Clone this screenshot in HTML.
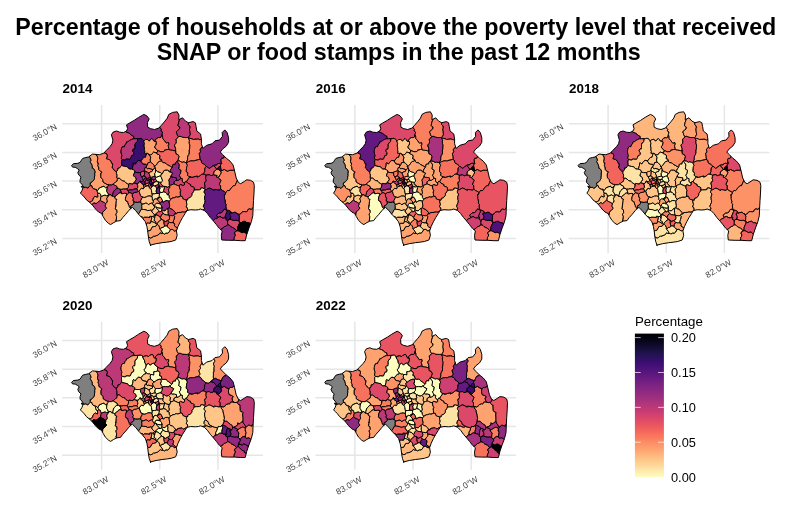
<!DOCTYPE html>
<html lang="en"><head><meta charset="utf-8"><title>Percentage of households at or above the poverty level that received SNAP or food stamps</title>
<style>html,body{margin:0;padding:0;background:#fff}body{width:800px;height:516px;overflow:hidden}svg{display:block}text{font-family:"Liberation Sans",sans-serif}.t{font-weight:bold;font-size:23.25px;fill:#000;text-anchor:middle}.s{font-weight:bold;font-size:13.4px;fill:#000}.a{font-size:8.53px;fill:#454545;text-anchor:end}.l{font-size:12.8px;fill:#000}.lt{font-size:13.3px;fill:#000}.g{stroke:#e6e6e6;stroke-width:1.5;fill:none}.m path,.m use{stroke:#000;stroke-width:1;stroke-linejoin:round}</style></head><body>
<svg width="800" height="516" viewBox="0 0 800 516">
<rect width="800" height="516" fill="#fff"/>
<text class="t" x="395.8" y="35">Percentage of households at or above the poverty level that received</text>
<text class="t" x="398.7" y="60.2">SNAP or food stamps in the past 12 months</text>
<defs class="m"><clipPath id="oc"><path d="M83.6 186.9L81.8 184.2L80.1 182.4L80.1 179.8L81.0 177.1L78.7 174.9L77.8 172.6L79.2 170.0L77.4 168.6L75.2 167.3L72.5 167.1L71.6 165.5L73.4 163.7L77.8 163.3L80.1 162.4L81.4 160.2L82.7 158.4L85.9 157.5L88.5 157.0L92.5 154.1L99.3 154.7L103.8 153.2L106.1 150.6L109.9 146.8L112.1 143.8L112.9 140.1L111.4 134.8L113.2 132.0L116.7 131.0L119.7 132.2L123.5 132.5L126.5 131.0L127.6 128.7L126.5 124.9L129.5 123.0L134.1 120.4L138.6 117.4L143.9 114.4L146.9 115.9L149.2 118.9L147.4 122.7L147.7 127.2L150.7 128.7L154.5 129.5L159.0 128.0L161.0 125.7L164.3 121.9L167.3 118.1L168.8 114.4L172.6 112.4L177.1 111.8L177.2 111.8L179.0 115.1L178.7 119.7L182.5 117.8L185.5 121.2L188.5 122.7L193.1 121.6L195.3 122.7L196.1 126.5L196.8 131.0L200.6 134.0L201.4 139.3L201.4 143.8L202.9 148.4L206.7 145.3L212.0 143.8L215.0 140.8L219.5 140.1L222.5 136.3L222.2 132.5L224.8 129.9L227.1 132.5L228.6 137.8L228.6 142.3L226.3 146.1L222.5 149.1L220.3 152.1L222.5 154.4L226.3 158.2L230.1 161.2L233.1 165.0L234.6 171.0L236.2 178.0L238.4 182.5L240.7 183.7L244.5 181.3L246.7 179.8L250.5 180.3L253.5 182.2L254.3 185.6L254.0 193.1L253.5 200.7L253.1 208.2L252.8 215.8L251.3 221.8L249.0 227.9L246.7 234.7L245.2 240.7L240.7 240.7L234.6 240.3L228.6 240.3L221.8 240.0L221.3 235.4L222.2 230.9L219.5 228.6L216.5 224.8L213.5 221.1L210.4 217.6L207.4 213.5L204.4 210.5L200.6 209.0L198.4 209.7L195.3 210.0L190.8 209.7L187.0 210.5L185.1 213.5L182.5 217.6L180.2 221.8L178.0 226.4L176.4 230.9L177.2 235.4L175.7 240.0L171.2 241.5L166.6 242.2L162.1 242.7L156.1 243.7L150.0 245.2L150.7 245.7L149.2 241.5L148.4 236.9L147.7 230.9L146.9 226.4L145.4 221.8L142.4 218.1L138.6 214.3L135.6 210.5L132.5 207.5L131.0 208.2L128.8 210.5L125.7 214.3L122.7 217.6L120.5 220.6L116.7 221.1L113.7 222.6L110.6 224.6L108.4 223.3L105.3 220.3L103.1 216.5L101.6 213.5L98.5 212.0L95.5 209.0L92.5 205.2L89.5 202.2L86.5 199.9L84.2 196.9L81.9 194.6L80.4 193.1L81.9 190.8L82.7 188.6L81.2 186.3Z"/></clipPath><path id="ol" d="M83.6 186.9L81.8 184.2L80.1 182.4L80.1 179.8L81.0 177.1L78.7 174.9L77.8 172.6L79.2 170.0L77.4 168.6L75.2 167.3L72.5 167.1L71.6 165.5L73.4 163.7L77.8 163.3L80.1 162.4L81.4 160.2L82.7 158.4L85.9 157.5L88.5 157.0L92.5 154.1L99.3 154.7L103.8 153.2L106.1 150.6L109.9 146.8L112.1 143.8L112.9 140.1L111.4 134.8L113.2 132.0L116.7 131.0L119.7 132.2L123.5 132.5L126.5 131.0L127.6 128.7L126.5 124.9L129.5 123.0L134.1 120.4L138.6 117.4L143.9 114.4L146.9 115.9L149.2 118.9L147.4 122.7L147.7 127.2L150.7 128.7L154.5 129.5L159.0 128.0L161.0 125.7L164.3 121.9L167.3 118.1L168.8 114.4L172.6 112.4L177.1 111.8L177.2 111.8L179.0 115.1L178.7 119.7L182.5 117.8L185.5 121.2L188.5 122.7L193.1 121.6L195.3 122.7L196.1 126.5L196.8 131.0L200.6 134.0L201.4 139.3L201.4 143.8L202.9 148.4L206.7 145.3L212.0 143.8L215.0 140.8L219.5 140.1L222.5 136.3L222.2 132.5L224.8 129.9L227.1 132.5L228.6 137.8L228.6 142.3L226.3 146.1L222.5 149.1L220.3 152.1L222.5 154.4L226.3 158.2L230.1 161.2L233.1 165.0L234.6 171.0L236.2 178.0L238.4 182.5L240.7 183.7L244.5 181.3L246.7 179.8L250.5 180.3L253.5 182.2L254.3 185.6L254.0 193.1L253.5 200.7L253.1 208.2L252.8 215.8L251.3 221.8L249.0 227.9L246.7 234.7L245.2 240.7L240.7 240.7L234.6 240.3L228.6 240.3L221.8 240.0L221.3 235.4L222.2 230.9L219.5 228.6L216.5 224.8L213.5 221.1L210.4 217.6L207.4 213.5L204.4 210.5L200.6 209.0L198.4 209.7L195.3 210.0L190.8 209.7L187.0 210.5L185.1 213.5L182.5 217.6L180.2 221.8L178.0 226.4L176.4 230.9L177.2 235.4L175.7 240.0L171.2 241.5L166.6 242.2L162.1 242.7L156.1 243.7L150.0 245.2L150.7 245.7L149.2 241.5L148.4 236.9L147.7 230.9L146.9 226.4L145.4 221.8L142.4 218.1L138.6 214.3L135.6 210.5L132.5 207.5L131.0 208.2L128.8 210.5L125.7 214.3L122.7 217.6L120.5 220.6L116.7 221.1L113.7 222.6L110.6 224.6L108.4 223.3L105.3 220.3L103.1 216.5L101.6 213.5L98.5 212.0L95.5 209.0L92.5 205.2L89.5 202.2L86.5 199.9L84.2 196.9L81.9 194.6L80.4 193.1L81.9 190.8L82.7 188.6L81.2 186.3Z" fill="none"/><path id="a0" d="M135.3 138.7L133.7 137.7L133.6 136.7L133.9 136.2L132.7 135.8L131.2 134.9L130.4 133.8L128.6 132.8L126.3 132.1L125.6 131.3L126.0 130.5L125.4 129.9L124.2 129.5L122.5 129.5L121.5 129.1L121.3 129.1L119.3 129.3L116.7 128.7L116.2 128.0L115.8 128.4L113.6 129.2L111.6 128.1L111.6 128.7L111.7 130.0L111.2 132.5L109.7 132.8L108.1 133.0L107.9 133.9L108.7 136.0L109.0 137.9L108.7 139.1L109.0 139.5L109.6 140.5L109.3 141.7L109.3 142.7L108.9 144.5L108.0 145.1L106.5 145.4L105.2 145.6L104.3 148.0L103.8 149.2L103.3 149.3L103.8 150.7L104.4 152.3L104.3 153.1L104.7 153.2L106.5 153.7L107.2 155.7L106.9 157.0L106.4 158.3L106.6 159.1L107.2 159.2L109.0 159.6L110.9 161.2L111.4 162.8L111.6 163.4L112.6 163.6L112.5 165.7L112.0 167.8L112.2 167.9L113.3 168.9L114.2 170.5L115.2 171.4L116.7 171.4L117.9 170.1L118.1 168.0L118.4 168.2L119.5 168.1L120.8 166.5L121.5 165.5L121.7 164.4L121.5 162.6L121.5 160.8L122.0 159.9L122.6 159.6L121.4 158.7L121.5 157.3L122.0 155.5L121.8 154.7L121.2 153.0L121.1 151.1L121.2 150.6L121.3 149.5L121.8 148.2L122.4 146.9L123.1 146.7L124.2 147.0L125.1 144.8L126.0 143.8L126.7 141.9L127.5 141.9L128.2 141.6L129.2 140.9L130.3 140.2L131.8 139.4L133.2 138.9L134.1 139.0Z"/><path id="a1" d="M124.2 146.9L123.1 146.6L122.4 146.8L121.7 148.2L121.3 149.4L121.1 150.6L121.0 151.1L121.1 153.0L121.7 154.7L121.9 155.5L121.4 157.3L121.4 158.7L122.5 159.6L124.7 160.2L125.6 160.1L125.7 159.3L127.2 159.1L130.1 159.4L130.7 158.4L131.0 157.4L131.9 155.4L133.0 155.4L133.8 154.6L133.7 152.4L133.1 151.8L132.7 150.1L133.6 148.9L134.7 149.2L135.1 147.5L135.0 146.1L135.0 144.4L135.7 142.9L136.6 142.6L137.3 141.5L137.6 140.0L137.8 138.6L136.6 138.6L135.2 138.6L134.1 138.9L133.2 138.8L131.7 139.3L130.2 140.1L129.2 140.8L128.2 141.5L127.4 141.9L126.7 141.9L126.0 143.8L125.1 144.8Z"/><path id="a2" d="M135.2 138.7L137.8 138.6L139.0 138.5L140.0 138.4L141.3 138.5L142.4 139.3L143.4 140.6L144.3 140.6L145.4 139.7L147.2 139.4L148.7 140.6L149.4 141.1L150.2 139.9L151.9 138.7L152.7 139.4L153.4 140.7L154.8 141.5L155.5 140.1L156.8 138.4L158.5 137.5L160.0 137.7L161.1 137.3L161.9 134.5L162.2 133.4L162.5 132.1L161.2 131.3L160.9 130.9L161.4 129.4L160.7 128.4L159.8 127.7L158.8 125.7L158.1 124.1L158.0 125.1L155.8 126.0L154.1 126.7L153.6 125.8L153.0 125.3L151.1 125.4L150.2 123.9L149.9 122.7L151.1 121.4L152.3 121.2L153.1 120.5L152.8 119.7L152.1 118.2L151.2 116.5L149.8 114.8L150.0 114.2L150.4 113.3L149.2 112.7L146.9 111.7L145.7 111.3L145.0 111.6L143.9 112.2L142.6 112.3L141.2 111.4L140.4 111.9L140.0 113.1L139.0 114.1L137.3 115.3L136.1 115.2L135.5 116.1L134.4 117.6L132.8 117.9L131.3 118.4L130.2 118.6L129.3 119.9L128.7 121.3L127.9 121.2L126.5 122.0L125.0 122.9L124.4 123.1L123.7 124.0L123.3 125.1L123.2 125.9L124.2 127.7L124.9 129.0L124.7 129.4L124.1 129.5L125.4 129.9L126.0 130.5L125.6 131.3L126.2 132.1L128.6 132.9L130.3 133.8L131.1 135.0L132.6 135.8L133.9 136.3L133.6 136.8L133.7 137.7Z"/><path id="a3" d="M137.8 138.6L137.6 140.0L137.2 141.5L136.6 142.6L135.7 142.9L135.0 144.4L135.0 146.1L135.0 147.5L134.6 149.2L133.6 148.9L132.6 150.1L133.1 151.8L133.7 152.4L133.8 154.6L133.0 155.3L131.9 155.4L131.0 157.4L130.7 158.3L130.1 159.3L127.2 159.1L125.7 159.3L125.6 160.0L124.7 160.1L122.5 159.6L121.9 159.9L121.5 160.8L121.5 162.5L121.7 164.4L121.5 165.6L122.7 165.9L124.9 166.5L126.8 166.8L127.6 167.0L128.0 167.9L129.1 168.9L130.8 169.2L132.0 168.6L132.7 166.4L133.0 165.4L133.0 163.7L133.6 162.7L134.6 163.8L135.5 164.0L136.2 162.7L137.2 161.5L138.7 160.4L140.7 160.9L141.6 160.5L142.9 158.5L144.0 157.6L144.7 157.4L145.4 157.4L146.2 155.2L147.0 153.3L145.4 153.4L144.5 153.2L145.0 151.7L144.6 150.5L144.4 149.8L144.6 148.3L144.2 146.7L144.1 145.0L144.6 143.7L144.1 142.4L143.5 140.5L142.5 139.3L141.3 138.5L140.0 138.4L139.0 138.6Z"/><path id="a4" d="M154.8 141.5L153.4 140.7L152.7 139.4L151.9 138.6L150.2 139.8L149.4 141.1L148.6 140.6L147.2 139.4L145.4 139.6L144.3 140.6L143.4 140.5L144.1 142.3L144.5 143.6L144.1 144.9L144.2 146.6L144.6 148.3L144.4 149.8L144.6 150.5L144.9 151.7L144.4 153.2L145.3 153.4L147.0 153.3L148.2 153.6L148.7 154.9L150.7 155.0L152.4 153.9L152.8 152.9L153.6 152.2L155.6 152.7L157.3 152.3L157.7 150.8L156.6 149.2L155.0 148.0L154.9 146.1L155.6 145.4L156.0 145.1L156.4 142.8L156.1 141.3Z"/><path id="a5" d="M164.2 150.3L165.5 150.0L167.2 149.5L168.7 149.5L168.7 148.6L168.3 146.3L168.0 145.7L168.8 144.2L168.6 142.6L167.6 142.6L166.4 143.2L165.6 142.2L164.1 140.1L162.8 138.7L162.6 137.7L162.5 136.2L161.9 134.5L161.0 137.3L160.0 137.7L158.5 137.5L156.8 138.3L155.4 140.1L154.7 141.5L156.1 141.3L156.4 142.9L156.0 145.1L155.6 145.3L154.9 146.2L155.0 148.1L156.6 149.2L157.7 150.8L157.3 152.4L157.8 150.9L158.4 150.8L160.8 151.9L163.7 151.7L164.5 150.4Z"/><path id="a6" d="M162.5 132.1L162.2 133.4L161.8 134.5L162.5 136.3L162.6 137.8L162.7 138.7L164.1 140.2L165.5 142.2L166.3 143.2L167.5 142.7L168.5 142.6L168.8 144.2L168.0 145.7L168.2 146.3L168.7 148.6L168.6 149.5L169.9 150.0L170.6 150.1L171.2 150.2L172.6 150.4L174.1 150.7L175.3 150.9L175.7 151.1L175.7 148.4L174.6 145.7L174.7 144.8L175.9 143.6L176.2 143.4L176.4 141.6L176.1 139.1L176.3 139.0L177.1 138.4L177.9 137.9L178.4 136.6L177.3 134.7L177.1 133.4L176.6 133.1L176.4 131.6L177.8 130.5L179.5 129.0L179.9 127.1L178.9 126.6L178.0 125.4L178.3 124.1L178.6 122.6L179.2 120.7L179.7 119.5L179.7 119.1L179.5 118.0L179.5 117.0L180.0 115.7L180.7 114.4L181.2 112.5L180.7 112.3L180.8 111.8L180.8 110.8L179.2 109.8L177.6 109.4L176.2 109.1L175.0 109.1L174.7 109.5L174.2 109.2L172.5 108.2L171.3 108.4L170.4 110.3L170.1 111.4L169.4 111.2L167.7 111.3L166.5 111.9L165.9 112.6L165.0 114.3L164.7 115.1L164.8 116.3L164.3 118.1L163.6 118.5L162.7 120.1L160.8 120.3L158.3 122.2L157.4 123.1L158.1 124.1L158.8 125.8L159.7 127.7L160.7 128.5L161.4 129.5L160.9 130.9L161.2 131.3Z"/><path id="a7" d="M178.3 124.1L178.0 125.3L178.8 126.6L179.9 127.1L179.5 129.0L177.7 130.5L176.4 131.6L176.6 133.1L177.1 133.4L177.2 134.8L178.4 136.6L180.1 136.4L181.3 136.8L181.9 137.1L182.5 137.3L184.1 137.5L186.1 137.6L187.4 137.5L188.0 137.6L189.0 136.7L190.0 134.8L190.2 134.3L189.8 132.2L189.8 131.3L189.6 131.1L189.6 128.8L190.0 127.0L189.5 125.7L188.3 124.4L188.4 123.8L188.3 122.7L188.6 121.7L188.6 120.5L188.8 119.9L187.1 119.0L185.1 117.9L185.3 117.4L185.2 116.2L183.6 115.2L181.8 115.0L181.6 113.5L181.1 112.5L180.7 114.3L180.0 115.7L179.5 117.1L179.4 118.0L179.7 119.1L179.7 119.5L179.3 120.7L178.6 122.5Z"/><path id="a8" d="M188.3 122.7L188.3 123.8L188.2 124.4L189.5 125.7L189.9 127.0L189.5 128.8L189.5 131.1L189.7 131.3L189.7 132.2L190.2 134.4L189.9 134.8L189.0 136.7L188.0 137.6L188.3 137.9L190.1 138.4L192.1 138.9L193.0 139.3L193.4 139.5L194.9 139.3L197.3 139.1L198.8 139.2L199.2 139.8L200.0 139.9L201.7 139.2L203.1 138.8L204.1 139.7L203.7 137.5L203.8 135.5L203.2 136.1L202.6 134.8L203.0 132.4L202.2 131.6L200.9 130.9L200.4 129.8L199.9 128.9L199.7 128.3L199.8 127.1L199.4 126.3L198.2 125.2L198.1 122.7L199.2 121.8L199.6 121.9L199.0 121.6L197.0 121.1L195.2 120.3L194.1 119.2L193.4 118.6L192.5 118.1L191.7 118.5L190.4 119.6L189.0 120.1L188.7 119.9L188.5 120.5L188.6 121.6Z"/><path id="a9" d="M178.4 136.6L177.9 137.8L177.0 138.3L176.2 139.0L176.1 139.1L176.3 141.6L176.2 143.3L175.9 143.6L174.6 144.8L174.6 145.7L175.6 148.4L175.7 151.0L175.3 150.9L175.7 151.1L175.7 153.0L176.0 154.0L177.9 154.7L178.9 156.7L178.5 158.1L178.3 158.9L177.9 160.0L177.3 160.8L179.8 161.1L181.7 162.2L182.2 162.4L183.0 162.0L184.8 162.3L186.3 163.0L186.9 161.4L187.7 159.1L187.7 157.9L187.7 157.3L188.2 155.5L189.0 154.4L189.4 152.0L189.1 150.7L189.3 150.8L189.6 148.6L190.0 148.5L189.8 147.7L190.0 145.7L190.0 145.1L189.4 143.8L189.2 141.3L189.6 141.0L189.2 139.6L188.4 137.9L188.0 137.6L187.4 137.5L186.1 137.6L184.1 137.5L182.5 137.3L181.9 137.1L181.3 136.7L180.1 136.3Z"/><path id="a10" d="M189.9 148.5L189.5 148.6L189.3 150.8L189.1 150.7L189.4 152.0L189.0 154.4L188.2 155.5L187.6 157.3L187.6 157.9L187.7 159.1L186.9 161.4L186.3 163.0L186.5 163.3L187.2 162.6L188.5 161.7L190.4 161.1L192.1 160.9L193.5 161.0L194.3 160.9L194.8 160.5L195.9 160.3L197.8 159.9L199.5 159.5L200.7 160.0L200.3 159.6L199.8 158.1L199.7 156.2L199.3 154.5L199.1 153.2L200.1 152.7L200.5 151.4L199.9 149.9L200.1 149.2L200.6 148.8L201.7 147.3L203.1 146.4L204.3 144.1L204.4 142.9L204.1 142.6L204.1 142.5L204.4 140.7L204.1 139.7L203.1 138.8L201.7 139.1L200.1 139.8L199.2 139.7L198.8 139.2L197.3 139.1L194.9 139.3L193.4 139.5L193.0 139.3L192.1 138.9L190.1 138.4L188.3 137.9L189.1 139.6L189.6 141.0L189.2 141.3L189.3 143.7L189.9 145.1L189.9 145.7L189.7 147.7Z"/><path id="a11" d="M204.2 144.0L203.1 146.4L201.7 147.3L200.6 148.8L200.1 149.2L199.9 149.9L200.5 151.3L200.1 152.7L199.1 153.2L199.3 154.5L199.7 156.3L199.7 158.1L200.3 159.5L200.7 160.0L201.4 160.9L201.4 162.2L202.3 163.5L203.6 164.0L204.3 164.3L205.1 165.3L206.0 166.4L207.4 166.7L208.3 167.8L209.0 168.4L210.0 168.0L211.3 167.0L213.2 165.5L214.6 165.0L216.0 164.9L216.7 164.9L217.5 163.6L219.2 163.3L220.8 163.7L221.3 162.1L221.0 159.8L221.7 158.3L223.0 158.3L224.1 157.7L224.4 156.2L224.3 154.8L224.7 152.5L225.1 152.2L225.3 152.2L224.8 152.7L225.6 152.3L226.3 150.6L226.5 150.1L227.0 149.2L228.6 147.3L229.6 146.0L230.3 145.6L231.1 145.5L232.1 143.2L232.3 141.9L231.6 140.5L231.2 139.3L230.9 140.1L230.9 138.6L231.3 135.8L231.6 134.3L230.3 133.1L229.4 132.0L229.6 130.9L229.4 130.2L228.7 129.5L228.4 129.1L227.9 128.3L226.6 127.5L225.1 126.8L224.1 126.4L223.6 126.2L223.3 126.4L222.7 127.7L221.7 129.9L220.6 130.3L219.8 130.6L219.3 130.4L219.1 130.3L219.0 131.3L219.3 134.4L219.9 135.5L218.9 136.3L218.5 137.5L217.2 137.9L214.8 137.8L212.8 137.7L212.1 137.9L211.5 139.9L210.8 141.3L210.0 140.9L209.0 140.9L208.1 141.4L206.8 142.4L205.2 143.1L204.4 142.8Z"/><path id="a12" d="M85.3 187.4L86.3 187.4L87.2 188.2L88.3 188.0L89.4 186.4L90.7 185.5L90.2 184.7L90.1 182.9L90.6 182.8L92.3 181.7L93.5 180.3L94.0 179.4L94.5 178.4L94.4 177.2L94.7 175.5L94.7 175.2L94.6 173.8L95.0 171.7L94.3 169.5L92.7 168.3L92.3 168.3L92.3 168.0L92.2 166.5L91.9 165.3L91.7 164.6L90.6 162.7L90.1 161.5L90.8 160.8L90.7 159.0L89.9 157.9L89.4 156.8L88.3 154.9L88.0 154.2L87.5 153.9L85.9 153.9L84.0 154.6L83.1 156.1L83.0 156.0L82.3 155.2L81.2 155.1L80.5 156.7L79.8 158.6L77.8 160.9L76.4 160.1L75.9 159.5L75.5 160.3L73.2 160.4L71.2 159.9L70.7 160.6L70.8 162.8L70.2 164.3L69.3 165.6L68.7 165.7L68.6 165.3L68.9 165.5L69.0 167.4L69.2 169.6L70.3 170.2L71.6 170.1L72.4 169.8L73.2 169.5L73.6 169.5L75.0 170.3L75.5 173.4L75.4 174.4L74.4 175.1L75.3 177.0L76.0 177.3L77.9 177.8L77.6 179.1L77.3 180.1L76.5 180.9L76.3 183.1L77.5 184.6L78.6 184.7L78.4 186.0L78.1 187.2L79.5 187.9L81.2 188.7L82.4 188.4L83.7 187.5Z"/><path id="a13" d="M92.3 168.3L92.6 168.3L94.2 169.5L95.0 171.7L94.6 173.8L94.7 175.2L94.7 175.5L94.3 177.2L94.4 178.4L94.0 179.4L93.4 180.3L92.2 181.7L90.5 182.8L90.1 182.9L90.2 184.7L90.7 185.5L91.8 185.9L92.0 187.1L93.2 188.6L95.3 189.4L96.1 189.4L95.9 189.2L96.5 189.7L97.8 190.6L98.6 189.5L99.3 188.0L102.0 186.9L104.0 186.2L104.5 187.1L105.5 187.8L107.5 186.9L108.2 185.8L108.4 184.9L106.9 184.2L104.8 183.1L103.1 182.0L103.0 180.8L102.8 179.5L101.7 178.4L100.7 177.1L100.9 176.4L100.8 175.1L101.0 172.9L102.1 172.2L101.5 171.7L99.6 170.5L98.7 169.2L98.8 168.0L98.4 166.7L97.9 165.5L98.3 164.4L98.3 162.9L98.0 163.2L97.4 161.5L97.8 158.5L97.7 157.1L97.5 156.8L97.0 155.7L95.9 154.8L95.6 154.1L95.5 152.9L94.2 152.1L93.2 152.5L93.0 151.6L92.6 150.9L91.3 150.3L89.2 152.1L88.2 154.3L88.0 154.2L88.3 154.9L89.4 156.7L89.9 157.9L90.6 159.1L90.8 160.8L90.1 161.5L90.6 162.7L91.7 164.6L91.9 165.3L92.2 166.5L92.3 168.0Z"/><path id="a14" d="M97.8 165.5L98.4 166.7L98.8 168.0L98.7 169.3L99.6 170.6L101.4 171.7L102.1 172.2L101.0 172.9L100.8 175.1L100.9 176.4L100.7 177.1L101.7 178.4L102.8 179.6L102.9 180.9L103.1 182.0L104.7 183.1L106.8 184.3L108.4 184.9L108.4 184.4L109.2 184.8L111.7 184.8L113.2 184.0L113.1 184.2L114.0 183.4L115.5 181.9L116.8 181.4L117.3 179.5L117.3 178.2L116.8 177.8L117.1 175.3L116.9 173.8L116.4 173.3L116.6 172.0L116.8 171.3L115.3 171.3L114.2 170.4L113.3 168.9L112.2 167.9L112.0 167.8L112.5 165.6L112.6 163.6L111.6 163.4L111.4 162.8L111.0 161.2L109.1 159.6L107.3 159.1L106.7 159.1L106.4 158.3L107.0 157.0L107.3 155.7L106.6 153.7L104.8 153.2L104.3 153.1L104.4 152.3L103.9 150.7L103.3 149.3L102.6 150.5L101.2 150.7L99.4 151.4L98.1 151.7L98.4 150.8L97.1 150.8L94.2 152.1L95.4 152.9L95.6 154.1L95.8 154.8L97.0 155.7L97.5 156.8L97.6 157.1L97.8 158.5L97.3 161.6L97.9 163.2L98.2 162.9L98.3 164.4Z"/><path id="a15" d="M121.5 165.5L120.8 166.4L119.5 168.1L118.4 168.2L118.1 168.0L117.8 170.0L116.7 171.3L116.5 172.0L116.3 173.3L116.8 173.8L117.1 175.3L116.8 177.8L117.3 178.2L119.2 178.1L120.7 179.2L122.1 180.6L123.6 180.9L124.2 180.7L124.5 181.3L125.8 182.7L127.6 183.8L128.7 184.7L128.5 184.0L129.0 183.4L131.3 183.7L132.9 184.0L133.2 183.1L134.1 182.8L134.7 181.6L136.1 179.7L135.7 177.5L134.3 176.5L133.4 176.0L133.8 173.8L134.2 173.1L134.7 172.2L134.7 170.7L133.3 169.7L132.0 169.4L132.0 168.5L130.8 169.2L129.1 168.9L128.0 167.8L127.6 167.0L126.8 166.7L124.9 166.4L122.7 165.9Z"/><path id="a16" d="M128.7 184.7L127.7 183.8L125.8 182.7L124.5 181.3L124.3 180.6L123.6 180.8L122.1 180.5L120.7 179.2L119.2 178.1L117.2 178.2L117.2 179.5L116.7 181.3L115.5 181.9L114.0 183.3L113.1 184.1L114.3 184.9L116.8 186.2L117.5 188.1L117.8 188.7L117.7 188.5L118.4 188.4L120.0 189.2L121.9 189.3L123.3 188.8L123.9 188.8L125.0 188.9L127.2 188.7L128.1 187.6L128.5 186.3Z"/><path id="a17" d="M108.4 194.8L107.8 193.1L106.6 191.5L106.6 191.0L106.7 190.0L106.9 188.3L107.5 186.9L105.5 187.8L104.5 187.1L103.9 186.2L102.0 186.9L99.3 188.0L98.5 189.4L97.7 190.6L96.5 189.7L96.9 191.3L97.8 193.1L99.8 193.3L100.6 194.5L101.1 196.4L103.0 195.7L105.0 195.0L106.3 195.6L107.0 196.0Z"/><path id="a18" d="M107.4 186.9L106.9 188.3L106.7 190.1L106.6 191.0L106.6 191.6L107.7 193.1L108.3 194.8L109.2 194.9L110.8 194.7L111.3 195.8L112.2 196.2L112.8 194.5L113.4 192.3L113.9 191.1L114.5 190.6L115.3 189.9L116.4 188.5L117.5 188.1L116.8 186.2L114.3 184.9L113.1 184.1L113.2 183.9L111.8 184.8L109.2 184.8L108.4 184.3L108.4 184.9L108.1 185.8Z"/><path id="a19" d="M120.0 189.2L118.4 188.4L117.7 188.5L117.8 188.7L117.5 188.1L116.4 188.5L115.3 189.9L114.5 190.5L113.9 191.1L113.3 192.3L112.7 194.5L112.1 196.2L113.5 196.4L114.8 196.9L116.8 195.1L117.6 194.8L118.6 193.4L120.3 192.7L121.3 192.8L120.8 191.1Z"/><path id="a20" d="M127.7 190.6L127.3 190.0L127.3 188.6L125.0 188.9L123.9 188.8L123.3 188.7L121.9 189.2L120.0 189.1L120.7 191.1L121.3 192.8L121.0 193.6L121.8 193.8L124.6 193.4L126.5 193.5L126.5 194.9L126.8 195.0L127.4 194.1L129.0 192.8L128.6 191.4Z"/><path id="a21" d="M97.9 193.1L97.0 191.3L96.5 189.7L96.0 189.3L96.2 189.4L95.3 189.4L93.2 188.6L92.0 187.1L91.8 185.9L90.7 185.5L89.3 186.3L88.2 187.9L87.2 188.2L86.2 187.3L85.3 187.3L83.7 187.5L82.4 188.4L81.2 188.7L79.5 187.9L78.1 187.2L78.5 187.9L79.1 188.7L78.8 189.0L77.6 189.9L76.5 191.5L76.5 192.4L77.3 194.0L77.9 195.1L78.1 195.2L78.7 195.9L79.5 197.4L80.6 198.8L82.2 199.1L82.9 199.2L82.7 200.3L84.0 201.8L86.2 202.9L86.5 203.6L87.1 204.5L88.8 201.8L89.6 202.1L90.2 202.1L91.3 201.3L92.5 200.7L92.9 199.2L93.4 197.8L95.0 196.3L97.0 197.0L97.8 196.8L97.6 194.5Z"/><path id="a22" d="M128.7 184.7L128.5 186.3L128.0 187.6L127.2 188.7L127.2 190.0L127.7 190.6L129.8 189.9L131.3 189.9L132.2 190.1L133.3 189.4L134.9 189.0L136.4 189.1L137.1 188.4L137.9 187.2L137.7 185.7L137.2 183.9L136.4 183.5L134.1 182.8L133.2 183.1L132.9 184.0L131.2 183.7L129.0 183.4L128.5 184.0Z"/><path id="a23" d="M87.1 204.4L88.9 206.5L90.3 205.8L90.9 205.0L92.1 204.2L93.9 202.8L95.0 203.0L96.0 203.7L97.8 202.3L99.5 200.8L100.2 200.2L100.6 200.5L100.6 200.3L100.7 199.2L100.8 197.9L101.2 196.4L100.6 194.5L99.8 193.2L97.8 193.1L97.5 194.5L97.8 196.8L97.0 197.0L95.0 196.3L93.4 197.8L92.9 199.2L92.5 200.7L91.3 201.2L90.1 202.0L89.6 202.1L88.8 201.8Z"/><path id="a24" d="M105.7 203.5L106.5 202.9L107.2 202.1L107.3 200.6L107.0 199.5L106.9 198.2L107.7 197.1L109.2 194.9L108.4 194.8L107.0 196.0L106.3 195.6L104.9 194.9L103.0 195.7L101.1 196.4L100.7 197.9L100.6 199.2L100.5 200.2L100.6 200.4L101.7 201.3L103.2 201.9L104.4 202.6Z"/><path id="a25" d="M106.5 207.9L105.5 206.7L105.3 205.5L105.7 204.6L105.7 203.5L104.4 202.5L103.2 201.8L101.8 201.3L100.6 200.4L100.2 200.1L99.5 200.7L97.8 202.2L96.0 203.7L94.9 203.0L93.9 202.8L92.2 204.2L90.9 204.9L90.3 205.7L88.9 206.4L90.2 207.8L91.5 208.6L92.5 209.7L93.3 210.4L94.2 210.9L94.0 211.8L94.7 213.3L97.1 214.7L97.9 215.6L97.7 216.1L98.1 215.8L99.3 216.5L100.6 214.8L102.0 214.0L102.6 214.7L102.6 213.1L103.0 211.8L104.5 210.7L106.0 208.9L106.5 208.5Z"/><path id="a26" d="M112.1 196.2L111.3 195.8L110.8 194.7L109.2 194.9L107.7 197.1L106.8 198.3L106.9 199.5L107.3 200.6L107.2 202.1L106.5 202.9L105.7 203.5L105.7 204.6L105.3 205.4L105.4 206.6L106.4 207.9L106.4 208.5L105.6 209.2L103.8 211.3L102.6 212.2L102.6 214.3L102.2 214.2L100.7 214.5L99.3 216.4L100.5 217.6L101.3 218.8L101.9 220.7L101.9 222.3L102.7 222.7L104.2 223.0L105.0 223.4L105.5 224.1L106.7 224.9L108.3 225.7L109.7 226.8L110.8 227.2L111.6 227.3L111.9 227.2L112.6 226.3L114.6 226.0L116.6 226.1L117.2 224.7L117.0 224.1L116.6 222.8L116.7 221.0L116.1 220.0L116.1 220.4L116.4 219.0L116.7 216.4L116.3 215.7L116.0 214.1L116.5 213.2L117.2 212.6L116.9 209.8L115.1 208.8L115.4 208.4L115.8 206.7L115.8 205.7L115.9 206.2L116.1 204.2L116.3 201.8L116.4 200.6L117.0 199.3L116.3 199.2L115.3 198.7L114.9 196.8L113.6 196.4Z"/><path id="a27" d="M114.8 196.9L115.2 198.7L116.2 199.1L116.9 199.3L116.4 200.5L116.2 201.8L116.1 204.2L115.9 206.2L115.8 205.7L115.8 206.7L115.4 208.4L115.1 208.9L116.8 209.9L117.1 212.6L116.5 213.2L115.9 214.1L116.3 215.6L116.6 216.5L116.4 219.1L116.0 220.4L116.0 220.1L116.7 221.0L116.6 222.8L117.0 224.1L118.3 224.3L120.5 224.0L122.1 223.6L122.5 223.6L122.8 223.1L123.5 221.1L124.2 220.8L124.4 218.8L125.5 217.5L127.9 217.6L129.4 217.1L129.2 215.6L128.8 213.8L129.1 213.6L129.1 213.0L129.9 211.4L131.0 211.3L131.0 209.4L129.7 207.2L128.9 206.5L128.9 205.6L128.2 204.0L127.7 202.7L127.8 201.8L127.0 201.5L125.9 201.0L125.3 199.5L125.7 196.6L125.9 196.3L126.5 194.9L126.5 193.5L124.6 193.3L121.8 193.8L121.0 193.5L121.3 192.7L120.3 192.7L118.5 193.4L117.6 194.7L116.8 195.1Z"/><path id="a28" d="M126.5 194.8L125.9 196.2L125.7 196.6L125.2 199.5L125.9 201.0L127.0 201.5L127.8 201.8L127.7 202.7L128.2 204.1L128.9 205.6L128.8 206.6L129.7 207.3L131.0 209.5L130.9 211.3L131.4 209.3L131.0 207.1L130.7 207.0L131.3 205.6L132.8 205.1L133.9 203.6L134.0 201.7L133.9 201.6L132.9 200.8L132.9 199.7L133.5 198.7L133.0 198.1L132.2 196.0L132.2 194.5L132.0 194.2L131.7 193.5L130.7 193.0L129.0 192.7L127.4 194.1L126.8 195.0Z"/><path id="a29" d="M132.0 194.2L132.2 194.5L132.2 196.0L133.0 198.1L133.5 198.7L132.9 199.8L132.9 200.8L133.9 201.6L135.3 202.3L137.8 202.4L139.4 202.1L139.8 202.2L140.8 202.8L140.9 200.5L142.0 198.1L142.9 196.9L142.0 196.6L141.2 196.4L140.6 195.3L139.8 193.4L139.4 191.9L139.2 191.4L138.8 191.3L137.7 191.6L136.3 192.2L134.2 192.5L132.5 193.5Z"/><path id="a30" d="M140.8 202.8L139.8 202.2L139.4 202.1L137.8 202.4L135.3 202.3L133.9 201.6L134.0 201.6L133.9 203.6L132.8 205.1L131.3 205.6L130.6 207.0L131.0 207.0L131.4 209.2L130.9 211.2L129.9 211.4L129.1 212.9L129.1 213.6L130.6 212.6L132.1 212.2L133.3 212.7L133.8 213.7L134.8 214.8L135.5 215.3L135.8 215.9L137.5 217.4L137.9 215.7L138.2 215.5L138.6 214.0L139.2 212.9L140.1 211.6L141.1 209.7L141.6 209.4L141.9 209.2L141.8 208.4L141.9 206.8L141.8 205.2L142.1 204.2L141.9 203.5Z"/><path id="a31" d="M132.0 168.6L132.0 169.4L133.3 169.7L134.7 170.8L134.7 172.2L135.1 172.3L136.9 172.7L139.6 172.7L141.0 172.0L141.9 171.5L143.0 171.5L144.0 170.6L144.5 170.1L144.7 169.6L145.1 167.7L146.1 167.3L146.8 165.7L146.2 164.3L144.0 164.0L142.4 163.5L141.8 162.1L140.7 160.9L138.7 160.4L137.2 161.4L136.2 162.7L135.5 163.9L134.6 163.8L133.6 162.6L133.0 163.7L133.0 165.4L132.7 166.4Z"/><path id="a32" d="M155.6 152.7L156.6 153.5L158.1 154.3L159.3 154.8L160.1 156.1L159.6 158.0L159.5 158.8L161.2 159.2L161.6 160.1L162.1 161.7L163.1 162.6L164.8 162.7L165.9 163.4L166.7 164.1L167.5 164.7L168.8 165.3L170.5 166.4L172.1 167.3L172.5 166.5L172.8 164.5L174.1 164.1L175.4 164.2L175.9 162.2L176.9 161.1L177.4 160.8L177.9 159.9L178.3 158.9L178.6 158.0L179.0 156.7L178.0 154.7L176.1 154.0L175.7 153.0L175.7 151.0L175.3 150.9L174.1 150.7L172.6 150.3L171.3 150.2L170.6 150.1L169.9 150.0L168.6 149.5L167.2 149.5L165.6 150.0L164.3 150.2L164.5 150.4L163.7 151.6L160.8 151.8L158.4 150.7L157.8 150.8L157.3 152.3Z"/><path id="a33" d="M161.6 160.1L161.2 159.2L159.6 158.8L159.6 158.0L160.1 156.1L159.3 154.8L158.1 154.3L156.7 153.5L155.7 152.7L153.6 152.1L152.8 152.8L152.4 153.8L150.7 155.0L148.7 154.8L149.6 155.9L150.6 157.1L150.5 158.1L150.0 160.1L150.6 162.2L151.7 163.0L152.2 163.4L153.3 164.3L154.2 165.8L154.5 166.8L156.2 165.3L157.4 163.4L158.2 162.3L159.4 161.4L160.7 161.3Z"/><path id="a34" d="M146.8 165.7L147.5 164.7L147.5 164.4L148.3 162.6L149.9 162.4L150.7 162.2L150.0 160.1L150.5 158.1L150.7 157.1L149.7 155.9L148.8 154.9L148.2 153.6L146.9 153.3L146.1 155.2L145.4 157.4L144.7 157.3L143.9 157.6L142.8 158.5L141.6 160.5L140.7 160.9L141.8 162.2L142.3 163.6L144.0 164.0L146.2 164.3Z"/><path id="a35" d="M152.9 169.8L154.3 168.7L155.2 168.0L154.6 167.1L154.0 166.4L154.6 166.8L154.2 165.7L153.3 164.3L152.2 163.3L151.7 163.0L150.6 162.1L149.8 162.3L148.2 162.5L147.5 164.4L147.6 164.7L146.8 165.7L146.1 167.3L147.3 168.8L148.1 168.8L148.6 168.4L150.3 168.9Z"/><path id="a36" d="M164.9 170.3L167.4 170.3L168.5 170.5L168.8 171.7L170.6 172.4L170.2 170.4L171.0 168.7L171.9 168.0L172.2 167.3L170.6 166.3L168.8 165.3L167.5 164.7L166.7 164.1L166.0 163.4L164.9 162.7L163.1 162.6L162.1 161.6L161.6 160.0L160.7 161.3L159.4 161.4L158.2 162.2L157.4 163.4L156.2 165.2L154.5 166.8L153.9 166.4L154.5 167.1L155.1 168.0L155.7 170.1L156.6 171.1L157.7 171.9L159.0 172.2L160.5 172.7L161.6 173.7L162.6 173.7L163.3 172.1L163.8 170.9Z"/><path id="a37" d="M134.1 182.8L136.3 183.5L138.5 183.5L139.3 182.0L139.9 181.0L141.9 181.9L143.3 180.6L142.7 178.5L141.6 176.8L140.7 175.4L140.4 174.0L140.6 173.2L139.6 172.7L137.0 172.6L135.2 172.2L134.7 172.1L134.2 173.1L133.8 173.8L133.3 176.1L134.2 176.5L135.6 177.5L136.1 179.8L134.7 181.6Z"/><path id="a38" d="M143.9 176.0L144.5 174.7L144.7 173.2L144.7 170.7L144.5 170.0L144.0 170.6L143.1 171.4L141.9 171.5L141.0 172.0L139.6 172.7L140.5 173.2L140.4 174.0L140.7 175.4L141.6 176.8Z"/><path id="a39" d="M150.4 176.5L149.6 174.7L148.8 172.9L148.1 172.4L147.4 172.0L146.0 171.4L144.7 170.7L144.7 173.2L144.5 174.7L143.9 176.0L145.3 176.5L146.2 177.4L146.6 178.4L147.9 178.4L149.3 177.2Z"/><path id="a40" d="M144.7 170.7L146.0 171.5L147.4 172.1L148.0 172.5L148.8 173.0L150.0 172.2L151.0 171.7L152.0 171.7L153.0 169.7L150.4 168.9L148.6 168.4L148.1 168.8L147.3 168.8L146.1 167.2L145.0 167.7L144.6 169.5L144.5 170.0Z"/><path id="a41" d="M155.7 170.1L155.1 168.0L154.3 168.6L152.9 169.7L151.9 171.7L150.9 171.7L150.0 172.2L148.8 172.9L149.5 174.7L150.3 176.5L150.3 177.9L151.5 177.2L153.7 176.4L155.5 176.4L154.8 175.2L154.8 173.2L155.2 172.8L155.5 172.4Z"/><path id="a42" d="M155.5 178.2L156.7 177.4L159.2 176.3L160.4 176.1L160.6 175.8L161.2 174.1L161.7 173.7L160.5 172.7L159.0 172.2L157.7 171.8L156.6 171.1L155.7 170.0L155.5 172.4L155.2 172.8L154.8 173.2L154.8 175.2L155.4 176.3L156.6 177.3L155.9 178.1Z"/><path id="a43" d="M155.5 178.2L155.9 179.7L157.0 180.9L157.7 181.6L157.9 181.7L159.0 182.0L159.9 182.2L161.2 182.2L162.4 181.0L162.4 180.8L162.0 179.5L161.3 177.4L160.4 176.1L159.1 176.2L156.6 177.3Z"/><path id="a44" d="M160.4 176.1L161.3 177.4L162.0 179.6L162.4 180.9L162.3 181.0L161.2 182.2L160.8 183.6L161.7 184.8L164.0 186.6L165.0 186.5L164.8 186.3L165.9 186.6L167.7 187.1L169.0 186.5L169.6 185.6L169.1 184.6L169.2 183.9L169.2 181.9L168.7 180.6L168.5 180.5L169.4 178.9L170.1 177.9L170.5 177.3L170.7 176.1L170.9 175.9L171.4 174.8L172.2 174.1L172.5 173.2L170.5 172.3L168.8 171.6L168.5 170.5L167.4 170.2L164.9 170.2L163.7 170.9L163.2 172.0L162.5 173.6L161.6 173.6L161.2 174.1L160.6 175.8Z"/><path id="a45" d="M176.9 161.0L175.9 162.2L175.4 164.1L174.1 164.1L172.8 164.4L172.5 166.5L172.1 167.3L171.9 168.0L171.0 168.7L170.2 170.4L170.5 172.4L172.5 173.2L172.1 174.1L171.4 174.8L170.9 175.8L171.5 177.2L173.4 177.4L176.2 177.8L176.4 179.8L176.2 179.7L176.5 180.6L178.5 180.3L181.0 178.4L180.3 176.8L179.6 175.5L179.4 175.1L180.5 173.7L181.1 170.6L181.3 170.3L179.8 169.5L178.8 168.9L179.0 167.9L179.2 166.6L179.4 165.2L179.2 164.0L177.8 162.4Z"/><path id="a46" d="M176.5 179.7L176.2 177.7L173.4 177.4L171.5 177.2L170.9 175.8L170.7 176.1L170.5 177.3L170.0 177.9L169.4 178.9L168.4 180.5L168.7 180.6L169.1 181.9L169.2 183.9L169.0 184.7L169.6 185.6L169.8 185.6L170.7 185.3L172.1 184.8L173.1 184.3L173.9 183.9L174.0 181.7L175.0 181.2Z"/><path id="a47" d="M186.3 163.0L184.8 162.2L183.0 161.9L182.2 162.4L181.7 162.2L179.8 161.1L177.3 160.8L176.9 161.1L177.8 162.4L179.1 164.1L179.3 165.2L179.2 166.6L179.0 167.9L178.8 168.9L179.7 169.5L181.2 170.3L181.0 170.6L180.5 173.6L179.3 175.1L179.5 175.5L180.2 176.7L180.9 178.4L182.4 178.6L182.4 179.5L182.2 181.1L183.2 182.5L184.5 183.0L185.4 181.4L186.6 181.6L187.3 180.1L187.7 179.5L188.6 178.2L190.0 176.7L188.7 176.4L187.6 175.2L187.9 173.6L187.9 172.7L186.4 171.7L186.3 170.3L186.5 168.6L186.6 167.6L186.9 166.4L187.4 165.6L187.2 164.8L186.5 163.3Z"/><path id="a48" d="M186.3 171.7L187.8 172.7L187.8 173.6L187.5 175.2L188.7 176.4L189.9 176.7L191.0 176.8L190.8 177.3L191.9 177.3L195.0 176.5L197.4 175.9L197.4 176.3L197.2 177.1L198.6 176.5L200.5 175.4L201.9 173.9L202.8 174.0L203.6 174.0L204.1 172.3L204.6 171.7L204.7 170.1L204.8 168.0L205.3 167.4L206.1 166.4L205.2 165.2L204.4 164.3L203.7 164.0L202.3 163.5L201.4 162.2L201.4 160.9L200.7 160.0L199.4 159.4L197.8 159.9L196.0 160.3L194.8 160.5L194.3 160.9L193.5 161.0L192.1 160.8L190.3 161.0L188.5 161.6L187.2 162.5L186.5 163.3L187.2 164.8L187.4 165.5L186.9 166.4L186.6 167.5L186.5 168.6L186.3 170.3Z"/><path id="a49" d="M206.2 175.2L204.8 174.5L203.6 173.9L202.8 174.1L201.9 173.8L200.5 175.3L198.6 176.4L197.2 177.1L197.5 176.3L197.4 175.9L195.0 176.5L191.8 177.3L190.7 177.3L191.0 176.8L189.9 176.7L188.6 178.2L187.7 179.5L187.3 180.1L186.6 181.6L187.7 183.1L189.4 184.0L190.6 184.5L190.3 185.2L190.9 186.1L193.2 187.0L194.5 187.9L194.1 188.9L194.3 190.1L196.3 190.0L199.4 189.9L200.5 189.5L200.5 188.3L202.2 187.9L204.1 188.6L204.8 188.7L205.1 186.4L204.9 184.9L204.5 184.0L204.7 182.2L205.6 181.9L206.3 180.5L206.0 179.3L205.7 178.7L205.9 176.7Z"/><path id="a50" d="M176.5 179.7L175.0 181.2L173.9 181.7L173.9 183.9L175.5 184.6L177.7 185.6L179.3 186.1L179.3 185.6L179.4 185.2L180.7 184.5L182.8 185.5L184.2 185.3L184.4 184.9L184.6 182.9L183.2 182.4L182.3 181.0L182.4 179.5L182.4 178.6L180.9 178.3L178.5 180.2L176.5 180.6L176.2 179.6Z"/><path id="a51" d="M186.3 199.9L187.8 200.2L187.9 198.9L188.4 198.1L190.2 197.7L191.9 195.7L192.2 194.6L191.9 193.7L192.5 193.4L193.5 191.7L194.2 190.4L194.3 190.1L194.1 188.9L194.5 187.9L193.3 187.0L190.9 186.1L190.3 185.1L190.6 184.5L189.4 184.0L187.7 183.1L186.6 181.6L185.4 181.4L184.5 182.9L184.4 184.9L184.1 185.3L182.7 185.4L180.6 184.5L179.4 185.2L179.5 188.2L180.2 189.9L180.7 190.7L180.3 191.7L180.0 191.8L180.2 193.7L180.3 196.2L180.4 196.3L182.0 196.4L182.5 197.4L182.7 198.6L184.1 199.4Z"/><path id="a52" d="M180.5 196.3L180.3 196.2L180.3 193.7L180.0 191.7L180.3 191.6L180.7 190.6L180.3 189.9L179.5 188.1L179.4 185.1L179.3 185.6L179.3 186.0L177.7 185.6L175.6 184.6L173.9 183.9L173.0 184.3L172.1 184.7L170.7 185.2L169.7 185.6L169.8 187.7L169.1 188.6L168.5 189.3L168.8 191.4L169.2 192.2L168.8 193.6L168.1 195.0L169.0 195.4L169.1 197.6L170.5 199.4L172.9 197.9L174.2 197.8L174.5 198.0L175.1 197.3L176.4 197.0L177.7 197.2L179.0 196.9Z"/><path id="a53" d="M169.8 185.6L169.6 185.5L169.0 186.4L167.7 187.1L165.8 186.6L164.8 186.3L164.4 187.7L164.0 189.0L163.6 190.2L163.4 191.8L165.6 192.4L167.0 193.8L167.1 194.9L168.2 195.0L168.8 193.6L169.3 192.3L168.9 191.4L168.5 189.3L169.1 188.5L169.8 187.7Z"/><path id="a54" d="M204.2 188.6L202.2 187.9L200.5 188.3L200.6 189.4L199.4 189.8L196.3 189.9L194.3 190.1L194.2 190.4L193.5 191.7L192.5 193.3L191.9 193.7L192.2 194.6L191.8 195.6L190.2 197.6L188.4 198.0L187.9 198.8L187.7 200.1L186.3 199.9L186.3 201.0L186.6 203.0L187.0 204.3L186.5 205.9L186.1 206.9L187.1 207.3L187.7 209.2L187.4 210.2L187.3 210.7L188.2 211.9L188.9 213.3L189.9 212.1L190.1 211.8L190.4 212.5L192.4 213.4L195.2 213.6L196.9 212.6L196.7 211.7L196.3 211.9L197.4 212.9L200.5 213.5L201.8 213.1L202.8 212.7L202.6 211.7L203.5 209.9L204.2 209.5L204.7 208.0L204.0 207.4L203.4 206.5L204.1 204.3L205.0 202.7L205.1 200.8L205.1 200.2L204.8 199.5L204.7 197.3L204.9 195.7L205.5 195.1L205.3 193.8L204.4 192.8L204.2 191.6L205.0 189.6Z"/><path id="a55" d="M159.6 193.3L159.1 195.7L158.9 197.6L160.1 197.0L160.8 197.3L161.9 199.2L162.8 201.3L163.2 202.1L164.0 201.6L165.7 200.6L167.8 200.6L169.0 201.1L169.4 201.0L169.7 200.6L170.5 199.3L169.2 197.5L169.1 195.3L168.2 194.9L167.1 194.8L167.0 193.8L165.6 192.4L163.4 191.8L162.0 192.4L160.8 192.5L160.0 192.8Z"/><path id="a56" d="M164.0 186.6L162.2 187.1L160.4 186.7L159.4 186.3L159.9 188.4L159.4 190.0L159.6 190.9L160.0 192.8L160.7 192.5L162.0 192.4L163.5 191.8L163.6 190.2L164.0 189.0L164.4 187.7L164.8 186.3L165.0 186.5Z"/><path id="a57" d="M151.9 193.0L151.8 192.6L151.5 190.7L151.4 189.7L150.7 188.9L149.1 187.6L148.8 186.0L147.3 185.9L145.0 186.6L144.2 187.4L144.1 187.8L143.3 188.9L141.6 188.3L140.1 189.6L139.1 191.4L139.4 191.9L139.8 193.4L140.6 195.4L141.1 196.4L142.0 196.6L142.9 196.9L143.5 197.4L144.9 197.5L146.5 196.9L147.3 196.4L148.1 196.2L150.0 196.0L152.1 196.5L152.4 195.4L152.1 193.3Z"/><path id="a58" d="M140.8 202.8L141.8 203.5L142.0 204.2L143.9 204.0L145.7 203.2L146.9 203.3L147.8 204.3L148.7 204.6L149.9 203.8L151.3 203.2L152.4 203.7L153.3 201.6L153.6 199.5L153.0 200.5L152.5 199.9L152.4 198.1L152.1 196.5L150.0 196.0L148.1 196.1L147.3 196.4L146.5 196.8L144.9 197.4L143.5 197.4L142.9 196.9L142.0 198.1L140.8 200.4Z"/><path id="a59" d="M156.7 193.3L154.5 193.7L152.4 193.8L151.9 193.0L152.1 193.3L152.3 195.4L152.0 196.5L152.4 198.2L152.4 199.9L153.0 200.5L153.9 199.6L155.2 198.7L156.7 198.9L157.6 197.7L159.0 197.6L159.2 195.7L159.6 193.3L158.8 193.5Z"/><path id="a60" d="M156.8 193.3L156.2 191.3L156.6 189.1L156.7 188.0L155.7 187.2L155.0 186.2L154.2 185.6L153.5 185.5L151.8 186.8L150.6 188.9L151.4 189.7L151.5 190.7L151.8 192.6L151.9 193.0L152.4 193.8L154.6 193.7Z"/><path id="a61" d="M163.2 202.1L162.8 201.2L161.8 198.9L160.7 197.1L159.8 197.2L158.3 198.2L157.4 199.8L158.5 200.8L159.6 202.3L159.2 203.9L159.0 203.9L160.0 203.7L161.1 201.8L162.5 201.6Z"/><path id="a62" d="M153.0 200.5L153.5 199.4L153.3 201.6L152.4 203.7L153.3 205.1L154.4 206.9L155.2 204.5L156.2 203.3L158.0 203.3L159.2 203.8L159.4 201.8L157.9 200.3L156.7 198.8L155.1 198.6L153.9 199.5Z"/><path id="a63" d="M156.7 188.0L156.6 189.1L156.2 191.3L156.7 193.3L158.8 193.6L159.6 193.3L160.0 192.8L159.7 190.9L159.4 190.0L160.0 188.4L159.5 186.3L158.8 186.5L158.3 188.1Z"/><path id="a64" d="M143.6 185.2L143.0 184.2L141.5 183.1L140.1 181.9L140.0 181.0L139.3 181.9L138.4 183.4L136.3 183.5L137.1 183.8L137.7 185.7L137.9 187.2L137.1 188.4L137.4 190.2L138.8 191.4L139.2 191.4L140.1 189.6L141.7 188.3L143.4 188.9L144.1 187.8Z"/><path id="a65" d="M137.1 188.4L136.4 189.0L134.9 189.0L133.3 189.4L132.1 190.0L131.2 189.9L129.8 189.9L127.7 190.6L128.5 191.4L128.9 192.8L130.6 193.0L131.7 193.5L132.0 194.2L132.6 193.6L134.3 192.5L136.3 192.2L137.8 191.7L138.8 191.4L137.5 190.2Z"/><path id="a66" d="M139.9 181.0L140.1 181.9L141.4 183.1L143.0 184.2L143.6 185.2L143.9 184.3L144.3 184.9L145.2 184.7L144.8 181.8L143.7 181.1L143.6 181.0L143.3 180.7L141.8 181.9Z"/><path id="a67" d="M150.3 177.9L150.4 176.4L149.2 177.1L147.8 178.3L146.6 178.3L146.4 178.2L146.2 178.7L148.2 179.3L150.1 179.5L150.4 179.0L150.3 178.4L150.3 178.3Z"/><path id="a68" d="M146.0 179.7L145.2 181.1L144.7 181.8L145.2 184.4L146.8 183.7L148.4 183.0L149.4 182.9L149.7 181.8L148.8 180.9Z"/><path id="a69" d="M153.7 186.0L152.9 183.8L154.0 182.7L153.0 183.2L152.1 184.2L150.9 184.8L150.6 185.3L151.8 186.9L153.5 185.6L154.2 185.6Z"/><path id="a70" d="M158.6 184.1L156.5 185.1L154.4 185.7L153.7 186.0L154.2 185.6L155.0 186.2L155.7 187.1L156.7 188.0L158.3 188.1L158.9 186.5L158.6 186.7L159.1 185.9Z"/><path id="a71" d="M164.1 186.6L161.7 184.8L160.9 183.6L161.2 182.1L159.9 182.2L159.0 182.0L157.9 181.7L158.5 184.2L159.1 186.0L158.6 186.8L158.8 186.6L159.5 186.3L160.5 186.7L162.3 187.2Z"/><path id="a72" d="M145.2 184.6L144.4 184.9L143.9 184.3L143.6 185.2L144.1 187.8L144.2 187.5L145.0 186.7L147.3 186.0L148.8 186.0L148.6 185.4L146.6 185.7Z"/><path id="a73" d="M151.9 186.8L150.7 185.3L150.9 184.9L150.0 183.5L149.4 182.9L148.8 184.1L148.5 185.5L148.8 186.0L149.1 187.7L150.7 188.9Z"/><path id="a74" d="M153.2 179.5L154.2 181.5L154.3 182.6L155.2 182.0L156.4 181.6L157.7 181.6L157.0 180.9L155.9 179.7L155.5 178.2L155.9 178.0L156.3 179.6L155.3 179.4Z"/><path id="a75" d="M151.0 179.6L150.5 180.5L150.0 181.2L149.7 181.8L149.4 182.9L149.9 183.5L151.2 183.3L152.4 183.0L151.5 181.8Z"/><path id="a76" d="M225.2 152.2L224.7 152.5L224.3 154.8L224.3 156.2L224.1 157.7L223.0 158.3L221.6 158.3L221.0 159.8L221.2 162.1L221.8 163.7L221.6 163.9L221.1 163.8L220.7 164.6L220.3 166.0L221.0 168.7L221.5 170.7L223.5 170.0L224.0 169.1L224.4 169.5L226.1 170.5L227.8 171.2L228.6 170.8L229.9 170.2L232.1 170.2L233.7 170.2L234.4 169.8L235.2 169.3L236.4 169.0L236.7 167.4L237.3 166.4L237.0 165.1L236.3 164.2L234.9 162.9L233.6 161.2L234.1 160.7L234.0 161.1L232.0 160.2L230.4 158.3L230.0 156.7L229.6 156.2L228.9 156.1L227.9 154.9L226.2 153.0L225.3 152.2Z"/><path id="a77" d="M221.2 162.0L220.7 163.6L219.1 163.3L217.4 163.5L216.6 164.9L215.9 164.9L214.6 165.0L213.1 165.5L214.9 166.7L215.9 168.5L217.0 169.5L217.8 169.3L218.5 167.3L220.4 166.0L220.7 164.7L221.1 163.8L221.6 164.0L221.8 163.7Z"/><path id="a78" d="M221.5 170.7L221.1 168.7L220.4 166.0L218.4 167.2L217.8 169.3L216.9 169.5L216.8 169.3L218.0 169.2L219.0 169.9L220.5 171.1Z"/><path id="a79" d="M213.7 174.8L216.0 175.2L217.3 175.6L216.8 176.3L216.5 177.0L217.9 177.4L219.0 177.0L220.3 174.7L221.2 173.1L221.3 172.1L220.5 171.1L218.9 169.9L218.0 169.2L216.9 169.3L215.3 170.6L214.2 171.4L214.0 172.0L213.8 173.3Z"/><path id="a80" d="M217.0 169.5L215.9 168.4L214.9 166.7L213.1 165.5L211.3 166.9L210.0 167.9L209.0 168.4L208.3 167.7L207.4 166.7L206.0 166.4L205.3 167.5L204.8 168.0L204.6 170.1L204.5 171.7L204.1 172.3L203.5 174.0L204.7 174.5L206.2 175.2L207.6 174.9L209.3 174.7L210.4 175.3L210.8 175.9L211.8 175.5L213.8 174.8L213.8 173.3L213.9 172.0L214.2 171.4L215.3 170.6L216.9 169.3Z"/><path id="a81" d="M221.5 170.7L220.5 171.1L221.2 172.1L221.2 173.1L220.2 174.7L218.9 177.0L217.9 177.4L218.9 178.6L220.4 179.4L221.1 180.3L220.0 182.8L219.3 184.5L220.1 185.0L220.6 185.8L220.6 187.2L220.6 188.9L221.2 189.6L222.4 190.6L224.5 191.7L225.9 192.8L226.6 191.6L227.0 190.8L227.7 190.5L229.1 190.8L230.2 189.8L230.9 188.3L231.9 187.6L233.5 185.7L234.7 185.6L235.0 185.8L235.4 185.1L236.4 182.7L237.6 180.0L238.3 180.2L239.3 180.3L241.1 180.6L239.5 179.9L237.5 177.3L237.7 174.6L238.4 174.6L239.2 173.5L239.5 172.0L237.9 171.0L236.3 168.9L235.2 169.2L234.4 169.8L233.7 170.2L232.0 170.1L229.8 170.1L228.6 170.7L227.8 171.2L226.1 170.5L224.4 169.5L224.0 169.0L223.5 169.9Z"/><path id="a82" d="M205.0 189.7L205.9 189.7L206.6 189.5L207.8 188.7L209.2 188.1L211.1 188.7L213.2 190.0L214.1 190.5L213.9 189.8L214.7 189.4L217.3 189.9L219.7 190.3L220.1 189.7L220.6 188.8L220.6 187.2L220.6 185.8L220.1 185.0L219.3 184.5L220.0 182.8L221.1 180.3L220.5 179.4L219.0 178.5L217.9 177.4L216.5 177.1L216.8 176.3L217.3 175.6L216.0 175.2L213.7 174.8L211.8 175.4L210.9 175.9L210.4 175.3L209.3 174.7L207.6 174.9L206.2 175.2L205.9 176.6L205.7 178.7L206.0 179.3L206.2 180.5L205.6 181.9L204.7 182.2L204.5 184.0L204.9 184.9L205.1 186.4L204.8 188.7L204.1 188.6Z"/><path id="a83" d="M227.7 190.4L227.0 190.8L226.6 191.6L225.8 192.7L224.8 195.0L224.1 194.6L224.5 196.6L224.4 198.5L224.8 199.5L225.3 201.5L225.1 202.9L225.1 203.3L226.0 204.1L226.1 204.5L225.7 205.9L226.2 208.9L226.8 209.8L227.4 210.2L228.7 210.3L230.9 211.5L231.7 213.1L231.9 213.5L232.6 213.0L234.5 212.3L235.7 212.4L235.9 213.0L237.3 213.7L239.1 214.5L240.9 213.8L241.9 212.3L242.6 211.8L244.2 211.7L246.2 211.8L247.3 211.4L247.9 209.6L249.4 208.9L251.4 209.5L252.3 208.8L252.4 208.0L253.1 208.1L254.5 207.9L255.8 207.7L255.3 206.3L255.1 204.6L255.7 203.4L257.1 202.5L257.6 201.8L256.6 200.1L255.8 197.6L256.1 196.4L256.6 195.9L256.6 195.0L256.8 193.3L257.0 190.5L256.7 189.6L256.6 189.7L256.7 188.7L256.3 187.0L256.2 184.8L257.1 183.6L258.0 182.4L257.7 181.2L256.7 180.7L255.3 180.5L253.3 179.4L252.5 177.7L252.4 176.5L251.3 176.7L249.3 176.9L247.9 176.3L247.2 175.9L246.5 176.2L245.1 177.5L243.6 178.3L242.9 178.2L242.3 179.9L241.0 180.9L241.1 180.6L239.3 180.3L238.3 180.1L237.6 180.0L236.4 182.6L235.3 185.0L234.9 185.8L234.6 185.6L233.4 185.7L231.8 187.6L230.9 188.3L230.2 189.7L229.0 190.7Z"/><path id="a84" d="M204.7 199.6L205.1 200.2L205.0 200.8L204.9 202.7L204.1 204.3L203.4 206.5L204.0 207.4L204.6 208.0L204.1 209.5L203.4 209.8L202.5 211.7L202.7 212.7L203.1 212.7L203.7 213.4L204.2 215.1L205.1 216.5L205.4 217.0L205.5 217.3L206.9 218.5L208.6 220.0L209.1 220.5L209.1 220.7L209.7 221.6L210.5 223.3L211.6 222.5L213.3 220.8L214.4 219.4L214.9 219.2L215.6 218.5L216.7 218.7L217.6 217.3L216.5 215.1L217.3 214.5L219.0 213.0L221.3 212.7L222.5 211.8L222.9 210.8L223.7 209.6L225.0 208.9L225.8 210.1L226.3 208.9L225.8 205.9L226.2 204.5L226.1 204.1L225.2 203.3L225.1 202.9L225.3 201.5L224.8 199.5L224.5 198.5L224.5 196.6L224.2 194.6L224.9 195.0L225.9 192.7L224.5 191.6L222.4 190.6L221.2 189.6L220.6 188.8L220.1 189.6L219.6 190.2L217.3 189.8L214.7 189.4L213.9 189.8L214.2 190.5L213.2 190.0L211.1 188.7L209.2 188.1L207.8 188.7L206.7 189.5L205.9 189.7L205.0 189.6L204.2 191.6L204.3 192.8L205.3 193.9L205.4 195.2L204.8 195.7L204.6 197.3Z"/><path id="a85" d="M253.9 222.2L254.2 221.8L255.1 221.5L255.9 220.2L255.7 218.2L255.1 216.5L255.1 216.3L255.5 216.0L255.8 214.7L256.4 212.7L257.5 211.1L257.7 209.8L256.8 208.6L255.8 207.7L254.5 207.9L253.2 208.1L252.4 208.0L252.3 208.8L251.5 209.4L249.5 208.9L247.9 209.6L247.3 211.4L246.2 211.8L244.1 211.6L242.6 211.8L241.9 212.2L240.8 213.8L239.0 214.5L237.3 213.7L238.8 215.2L239.3 216.2L239.1 217.2L239.1 220.2L238.8 221.0L239.5 221.7L240.6 222.6L241.5 222.5L243.2 221.6L244.9 221.3L246.1 222.1L246.9 222.7L247.9 222.7L249.4 223.1L251.0 223.9L252.7 223.6Z"/><path id="a86" d="M239.5 221.6L239.7 223.0L239.2 223.9L238.1 226.3L237.5 227.9L237.7 228.3L237.3 230.8L238.0 230.7L239.5 231.2L241.1 232.2L242.2 232.6L243.5 232.2L244.9 232.3L246.0 233.6L247.4 235.0L249.3 235.1L250.1 234.6L250.1 234.3L250.4 232.3L250.7 231.4L250.7 228.7L250.7 228.6L251.6 228.5L252.9 227.1L253.8 225.4L253.9 222.1L252.7 223.5L251.1 223.8L249.4 223.1L247.9 222.7L246.8 222.7L246.1 222.1L245.0 221.2L243.2 221.5L241.5 222.4L240.6 222.5Z"/><path id="a87" d="M237.3 230.7L236.8 231.0L235.3 231.6L234.4 233.4L234.9 233.5L235.4 235.1L235.0 236.5L234.3 237.2L234.2 238.5L234.1 240.1L233.3 242.2L232.2 243.8L233.4 244.1L235.8 244.4L237.6 244.6L237.9 244.0L238.3 243.1L240.0 243.1L241.5 244.1L242.2 244.9L243.0 244.3L244.9 242.9L246.3 242.1L247.0 241.9L247.3 241.9L247.8 241.9L248.6 241.9L249.0 240.4L249.4 238.4L249.9 235.8L250.1 234.6L249.3 235.0L247.4 234.9L246.0 233.6L244.9 232.2L243.5 232.1L242.2 232.6L241.1 232.2L239.5 231.1L238.0 230.7Z"/><path id="a88" d="M236.8 231.0L236.0 229.9L234.2 228.4L232.6 227.5L231.7 227.2L230.8 226.6L229.9 225.6L228.8 225.0L227.7 224.9L226.9 225.4L225.6 226.3L224.2 226.6L223.0 228.0L222.0 228.7L221.1 229.0L220.5 230.0L220.0 230.1L219.1 231.1L219.7 231.5L219.2 232.8L218.9 234.5L218.9 236.0L218.6 236.6L218.1 237.7L218.1 238.9L218.1 240.4L218.5 241.8L220.6 242.5L222.2 242.7L222.8 243.0L222.6 243.4L223.1 243.4L225.8 243.5L227.5 243.9L228.1 243.7L229.7 243.2L231.7 243.1L232.5 243.4L232.2 243.8L233.3 242.2L234.1 240.1L234.2 238.5L234.4 237.2L235.1 236.5L235.4 235.1L234.9 233.5L234.4 233.4L235.3 231.6Z"/><path id="a89" d="M217.5 217.3L216.7 218.7L215.5 218.5L214.9 219.2L214.4 219.3L213.3 220.8L211.6 222.4L210.5 223.2L212.1 224.7L213.6 225.3L213.4 226.1L213.6 227.1L215.2 227.4L215.9 228.1L216.8 229.7L219.1 231.1L220.1 230.1L220.5 230.1L221.2 229.0L222.0 228.7L223.0 228.1L224.2 226.7L225.7 226.3L226.9 225.4L227.7 224.9L227.6 224.0L227.6 222.3L227.7 220.4L226.0 219.5L225.9 218.6L226.2 217.6L225.1 217.7L222.5 217.8L220.7 217.1L220.4 216.3L219.8 216.5Z"/><path id="a90" d="M226.2 217.6L225.5 216.3L225.1 216.5L225.7 215.1L226.6 212.8L227.1 211.7L227.2 211.1L227.1 211.1L226.8 209.7L226.2 208.8L225.7 210.1L225.0 208.9L223.7 209.5L222.9 210.8L222.5 211.8L221.2 212.7L219.0 213.0L217.2 214.5L216.4 215.1L217.6 217.4L219.8 216.5L220.4 216.3L220.6 217.1L222.5 217.8L225.1 217.8Z"/><path id="a91" d="M227.7 220.5L228.5 219.8L229.4 219.3L230.4 219.2L230.9 216.7L230.3 215.4L229.7 214.0L230.2 213.0L231.7 213.1L231.0 211.5L228.7 210.3L227.4 210.1L226.8 209.7L227.1 211.1L227.2 211.1L227.1 211.7L226.6 212.7L225.6 215.1L225.0 216.5L225.5 216.3L226.2 217.6L225.9 218.6L226.0 219.6Z"/><path id="a92" d="M238.8 221.1L239.1 220.2L239.1 217.2L239.4 216.2L238.9 215.2L237.3 213.7L236.0 213.0L235.8 212.4L234.5 212.3L232.6 212.9L231.9 213.5L231.7 213.1L230.2 212.9L229.6 214.0L230.3 215.4L230.8 216.7L230.3 219.2L229.3 219.3L228.4 219.8L229.8 219.3L230.4 219.2L231.6 219.7L233.4 220.3L234.7 220.5L235.6 220.3L237.2 220.3Z"/><path id="a93" d="M227.7 224.9L228.8 225.0L229.9 225.6L230.8 226.6L231.7 227.2L232.6 227.5L234.2 228.4L236.0 229.9L236.8 231.0L237.3 230.8L237.7 228.3L237.5 227.8L238.1 226.3L239.2 223.9L239.7 223.0L239.5 221.7L238.8 221.0L237.2 220.3L235.6 220.3L234.7 220.5L233.4 220.2L231.6 219.7L230.4 219.2L229.8 219.3L228.4 219.8L227.6 220.4L227.5 222.3L227.5 224.1Z"/><path id="a94" d="M164.5 234.0L163.9 233.6L163.7 233.4L162.9 233.3L161.1 233.4L160.2 232.6L159.4 233.8L157.6 235.1L155.5 235.9L154.3 236.2L153.8 235.8L152.9 236.8L152.0 237.5L150.6 237.9L148.8 237.1L147.8 235.8L147.8 235.1L147.1 235.1L145.1 234.8L145.6 237.4L145.7 238.6L146.2 238.5L147.0 239.8L146.8 241.0L146.0 242.1L146.4 244.2L147.5 245.4L148.4 246.5L149.5 247.4L150.2 247.8L150.4 248.1L149.9 248.6L149.8 248.9L151.3 248.6L153.5 247.3L154.9 246.4L155.6 246.3L156.8 245.9L158.6 245.6L160.1 246.0L160.7 246.5L161.2 246.1L162.0 245.3L163.4 245.6L164.8 246.4L166.0 246.2L167.0 245.0L168.2 244.1L169.8 244.1L171.3 244.2L171.9 243.9L172.5 244.0L173.9 244.3L175.8 243.3L176.4 242.2L176.4 241.2L176.9 240.6L177.9 240.2L178.9 237.7L179.7 237.2L180.3 235.5L180.5 234.8L179.9 234.9L179.1 233.0L179.3 231.0L179.5 230.9L178.4 229.9L177.3 229.6L175.9 230.5L174.7 231.1L173.7 230.3L172.3 229.4L170.4 229.5L169.6 230.9L169.1 232.1L167.7 233.1L165.9 233.0Z"/><path id="a95" d="M156.8 224.6L155.8 226.1L154.6 226.4L153.5 226.6L152.7 226.4L151.6 228.1L150.2 230.5L148.8 230.6L147.9 230.9L147.1 231.7L146.2 233.3L145.1 234.1L145.1 234.9L147.1 235.2L147.7 235.2L147.7 235.8L148.8 237.2L150.6 238.0L152.0 237.5L152.9 236.8L153.8 235.8L154.3 236.3L155.5 235.9L157.6 235.2L159.4 233.9L160.2 232.6L161.1 233.4L162.9 233.4L161.8 231.2L160.3 229.3L159.8 228.8L159.8 227.4L158.8 225.5L157.9 224.5Z"/><path id="a96" d="M156.8 224.6L156.5 224.1L155.8 223.4L154.6 222.6L153.1 221.8L151.9 221.5L151.0 221.7L150.2 223.4L148.6 223.1L147.1 223.1L146.6 223.7L146.2 225.4L144.8 227.0L143.1 226.5L144.0 227.7L144.3 229.7L144.3 230.6L144.9 231.4L145.3 233.2L145.1 234.1L146.2 233.4L147.1 231.7L147.9 230.9L148.8 230.6L150.2 230.6L151.6 228.1L152.6 226.5L153.5 226.6L154.6 226.5L155.8 226.2Z"/><path id="a97" d="M151.0 221.7L151.3 220.1L151.7 219.1L151.9 216.8L152.2 216.4L149.8 216.2L149.5 217.1L149.7 217.6L147.7 217.2L144.6 217.1L143.4 217.8L143.5 217.9L142.4 216.9L140.5 216.5L139.6 217.5L138.6 218.4L139.0 219.6L138.5 220.1L138.7 220.4L140.3 221.4L141.7 222.7L143.1 223.6L143.1 224.3L142.6 225.6L143.1 226.5L144.9 227.0L146.3 225.5L146.6 223.7L147.1 223.2L148.7 223.2L150.3 223.4Z"/><path id="a98" d="M153.6 216.4L154.6 214.5L154.4 214.5L152.8 213.0L151.6 211.0L151.9 210.6L151.4 209.9L151.0 209.8L149.4 210.3L147.7 210.5L147.0 210.1L146.0 209.7L143.6 209.4L141.8 209.1L141.6 209.4L141.0 209.6L140.1 211.6L139.2 212.9L138.6 213.9L138.1 215.5L137.8 215.6L137.5 217.3L138.7 218.5L139.6 217.6L140.5 216.5L142.4 216.9L143.5 217.9L143.4 217.9L144.6 217.1L147.7 217.2L149.7 217.6L149.5 217.1L149.8 216.2L152.2 216.5Z"/><path id="a99" d="M152.5 203.7L151.3 203.1L149.9 203.7L148.7 204.6L147.8 204.2L146.9 203.2L145.7 203.1L143.9 203.9L142.0 204.2L141.7 205.2L141.9 206.8L141.8 208.4L141.8 209.1L143.6 209.5L146.0 209.7L147.0 210.2L147.6 210.6L149.3 210.4L151.0 209.9L151.4 209.9L151.8 210.6L153.2 209.7L154.2 208.0L154.6 207.6L154.5 206.8L153.3 205.1Z"/><path id="a100" d="M180.4 196.3L179.0 196.9L177.7 197.2L176.4 196.9L175.1 197.2L174.5 197.9L174.1 197.8L172.9 197.9L170.4 199.4L169.7 200.6L169.4 201.0L169.2 201.8L169.2 203.0L169.7 205.4L169.5 206.9L169.3 207.7L171.1 209.0L171.4 209.0L171.4 208.8L173.4 210.2L175.4 212.5L176.0 213.9L176.8 213.6L177.1 212.7L178.8 212.5L180.9 212.4L182.3 212.1L183.3 212.1L184.6 212.2L185.9 211.5L187.3 210.7L187.4 210.2L187.7 209.2L187.1 207.3L186.2 206.9L186.5 205.8L187.1 204.3L186.7 203.1L186.3 201.0L186.3 199.9L184.2 199.4L182.7 198.5L182.6 197.3L182.0 196.4Z"/><path id="a101" d="M174.1 223.2L174.6 224.5L174.4 225.9L175.5 226.9L177.1 227.7L177.7 228.8L178.4 229.9L179.5 230.9L179.9 230.2L179.9 228.7L180.1 228.4L180.8 227.1L181.9 224.9L183.0 224.4L183.7 223.1L184.0 222.1L184.0 222.0L184.4 221.2L185.1 219.9L185.9 217.1L186.5 216.5L186.9 215.7L187.7 215.6L189.0 213.2L188.2 211.9L187.3 210.7L185.9 211.4L184.7 212.2L183.3 212.1L182.3 212.0L180.9 212.4L178.8 212.5L177.1 212.7L176.8 213.6L176.0 213.9L174.6 213.9L173.8 215.5L174.6 216.4L174.5 216.9L174.1 219.3L173.7 219.8L173.2 221.2L173.3 223.1Z"/><path id="a102" d="M169.4 222.4L170.8 222.8L171.8 222.7L172.8 222.7L174.1 223.3L173.4 223.1L173.3 221.2L173.8 219.8L174.1 219.3L174.5 216.9L174.6 216.4L173.8 215.5L172.2 215.8L170.5 215.6L169.5 215.4L169.0 215.5L169.0 215.5L169.6 217.6L169.1 219.7L167.3 220.4L167.8 221.3Z"/><path id="a103" d="M161.6 209.7L162.8 210.7L165.1 211.0L166.5 209.4L167.5 208.3L168.3 208.1L169.4 207.7L169.5 206.9L169.7 205.4L169.3 203.0L169.2 201.8L169.4 201.0L169.0 201.1L167.8 200.6L165.7 200.6L164.0 201.6L163.2 202.1L162.4 201.6L161.1 201.7L159.9 203.7L160.6 204.7L161.5 205.8L161.9 207.5L162.1 207.2L162.0 207.5Z"/><path id="a104" d="M169.0 215.5L169.5 215.4L170.5 215.6L172.2 215.8L173.9 215.6L174.6 213.9L176.1 213.9L175.4 212.5L173.5 210.1L171.5 208.8L171.4 209.1L171.1 209.0L169.4 207.7L168.2 208.0L167.5 208.2L168.0 210.7L167.8 212.5L168.0 213.3L168.5 215.0Z"/><path id="a105" d="M164.9 226.1L163.1 227.4L161.8 227.5L161.0 228.2L160.3 229.4L161.7 231.2L162.8 233.4L163.7 233.5L163.9 233.7L164.5 234.0L166.0 233.0L167.8 233.1L169.1 232.1L169.6 231.0L170.5 229.5L169.1 228.6L168.4 227.7L167.9 227.1L167.3 227.0L167.3 226.3L167.0 225.9Z"/><path id="a106" d="M151.8 210.6L151.6 211.0L152.8 213.1L154.4 214.5L155.6 214.1L156.8 212.9L157.5 212.1L158.3 211.6L160.0 211.7L158.9 210.6L157.0 208.6L156.0 206.9L155.6 206.5L154.6 207.5L154.1 208.0L153.1 209.7Z"/><path id="a107" d="M160.0 211.7L158.3 211.5L157.5 212.1L156.9 212.8L155.6 214.1L154.4 214.4L154.6 214.5L154.7 215.1L154.8 215.1L156.1 214.9L158.5 215.7L159.6 217.2L160.5 217.6L161.5 215.2L163.1 213.4L162.6 212.3L161.5 210.9L161.0 211.3Z"/><path id="a108" d="M167.4 220.4L169.2 219.7L169.6 217.6L169.0 215.5L169.0 215.5L168.5 214.9L166.6 214.7L164.9 214.6L164.3 214.3L164.1 213.8L163.1 213.4L161.5 215.2L160.4 217.6L161.3 219.1L161.4 218.7L161.4 219.4L163.2 220.0L164.6 220.9L164.8 221.9L165.5 221.5Z"/><path id="a109" d="M160.5 217.5L159.6 217.1L158.5 215.6L156.1 214.9L154.8 216.1L154.6 218.1L154.4 218.6L154.1 219.7L154.0 220.7L155.0 221.1L155.7 221.9L155.7 223.4L156.4 224.1L157.2 223.9L157.6 223.1L158.0 222.4L159.2 221.3L161.5 219.4L161.5 218.7L161.3 219.1Z"/><path id="a110" d="M163.2 219.9L161.4 219.4L159.2 221.3L158.0 222.3L157.6 223.0L157.1 223.9L156.4 224.1L156.7 224.6L157.8 224.6L158.8 225.6L159.7 227.5L159.8 228.8L160.3 229.4L161.1 228.2L161.8 227.5L163.1 227.4L164.9 226.1L164.2 224.8L163.7 222.9L163.8 221.4Z"/><path id="a111" d="M174.1 223.2L172.8 222.7L171.8 222.7L170.8 222.7L169.4 222.3L168.5 223.0L167.7 224.5L167.3 226.3L167.2 226.9L167.8 227.1L168.3 227.8L169.0 228.6L170.4 229.5L172.3 229.4L173.7 230.3L174.7 231.1L176.0 230.5L177.4 229.6L178.4 229.9L177.8 228.8L177.1 227.7L175.6 226.9L174.4 225.9L174.6 224.4Z"/><path id="a112" d="M164.9 226.2L167.0 226.0L167.3 226.3L167.7 224.6L168.5 223.0L169.5 222.4L167.9 221.3L167.4 220.4L165.5 221.4L164.8 221.8L164.6 220.8L163.2 219.9L163.8 221.4L163.7 222.9L164.1 224.8Z"/><path id="a113" d="M161.5 210.9L162.5 212.2L163.1 213.4L164.1 213.8L164.3 214.3L164.9 214.6L166.6 214.7L168.5 215.0L168.1 213.3L167.9 212.6L168.0 210.7L167.5 208.2L166.5 209.3L165.0 210.9L162.8 210.6L161.6 209.6Z"/><path id="a114" d="M151.0 179.7L151.4 178.8L150.8 178.2L150.3 178.3L150.2 178.4L150.4 179.0L150.0 179.5L150.0 181.2L150.5 180.5Z"/><path id="a115" d="M151.0 179.7L151.5 181.8L152.3 183.0L153.0 183.2L154.0 182.8L154.3 182.6L154.2 181.4L153.3 179.5L151.3 178.7Z"/><path id="a116" d="M150.3 178.3L150.8 178.2L151.3 178.8L153.3 179.6L155.3 179.4L156.2 179.6L155.9 178.1L156.6 177.3L155.5 176.3L153.6 176.3L151.4 177.1L150.3 177.8Z"/><path id="a117" d="M149.7 181.9L150.0 181.2L150.1 179.5L148.2 179.2L146.2 178.6L145.9 179.8L148.7 181.0Z"/><path id="a118" d="M154.3 182.6L154.0 182.8L152.9 183.9L153.7 186.0L154.4 185.8L156.5 185.2L158.6 184.2L158.0 181.7L157.7 181.6L156.4 181.6L155.2 182.0Z"/><path id="a119" d="M146.2 178.7L146.4 178.3L145.3 177.6L144.4 179.1L143.3 180.6L143.3 180.7L143.6 181.1L143.7 181.2L144.8 181.8L145.2 181.2L146.0 179.8Z"/><path id="a120" d="M143.9 176.0L141.6 176.8L142.6 178.6L143.3 180.6L144.4 179.2L145.3 177.6L146.4 178.3L146.6 178.4L146.3 177.3L145.3 176.4Z"/><path id="a121" d="M145.1 184.7L146.6 185.7L148.6 185.4L148.8 184.1L149.4 182.9L149.4 182.8L148.4 183.0L146.8 183.6L145.2 184.3Z"/><path id="a122" d="M149.9 183.5L150.9 184.9L152.2 184.2L153.0 183.2L152.3 183.0L151.1 183.3Z"/><path id="a123" d="M161.5 210.9L161.6 209.7L161.9 207.5L162.1 207.2L161.9 207.5L160.3 208.1L157.7 207.7L156.0 206.9L156.9 208.6L158.8 210.6L159.9 211.7L161.0 211.3Z"/><path id="a124" d="M161.9 207.5L161.5 205.8L160.6 204.7L160.0 203.6L159.0 203.8L159.2 203.8L158.0 203.3L156.3 203.3L155.2 204.5L154.4 206.8L154.6 207.6L155.6 206.6L156.0 206.9L157.8 207.7L160.4 208.1Z"/><path id="a125" d="M156.7 198.9L157.4 199.8L158.3 198.2L159.9 197.1L159.0 197.6L157.6 197.7Z"/><path id="a126" d="M156.2 214.9L154.9 215.0L154.7 215.1L154.6 214.5L153.5 216.3L154.4 218.6L154.6 218.2L154.8 216.1Z"/><path id="a127" d="M154.4 218.6L153.6 216.3L152.1 216.4L151.8 216.8L151.7 219.1L151.3 220.1L151.0 221.7L151.9 221.6L153.2 221.9L154.6 222.7L155.8 223.5L155.8 221.9L155.1 221.1L154.0 220.7L154.1 219.7Z"/><path id="b0" d="M106.5 153.7L107.2 155.7L106.9 157.0L106.4 158.3L106.6 159.1L107.2 159.2L109.0 159.6L110.9 161.2L111.4 162.8L111.6 163.4L112.6 163.6L112.5 165.7L112.0 167.8L112.2 167.9L113.3 168.9L114.2 170.5L115.2 171.4L116.7 171.4L117.9 170.1L118.1 168.0L118.4 168.2L119.5 168.1L120.8 166.5L121.5 165.5L121.7 164.4L121.5 162.6L121.5 160.8L122.0 159.9L122.6 159.6L121.4 158.7L121.5 157.3L122.0 155.5L121.8 154.7L121.2 153.0L121.1 151.1L121.2 150.6L121.3 149.5L121.8 148.2L122.4 146.9L123.1 146.7L124.2 147.0L125.1 144.8L126.0 143.8L126.7 141.9L127.5 141.9L128.2 141.6L129.2 140.9L130.3 140.2L131.8 139.4L133.2 138.9L134.1 139.0L135.3 138.7L133.7 137.7L133.6 136.7L133.9 136.2L132.7 135.8L131.2 134.9L130.4 133.8L128.6 132.8L126.3 132.1L125.6 131.3L126.0 130.5L125.4 129.9L124.2 129.5L122.5 129.5L121.5 129.1L121.3 129.1L119.3 129.3L116.7 128.7L116.2 128.1L116.2 127.9L115.2 128.8L112.9 129.0L111.6 128.1L111.6 128.7L111.7 130.8L111.1 132.6L109.6 132.8L108.1 133.0L107.8 133.5L108.5 135.5L109.0 137.6L108.7 139.0L109.0 139.5L109.6 140.5L109.3 141.7L109.3 142.7L108.9 144.5L108.0 145.1L106.5 145.4L105.2 145.6L104.3 148.0L103.8 149.2L103.3 149.3L103.8 150.7L104.4 152.3L104.3 153.1L104.7 153.2Z"/><path id="b1" d="M135.2 138.6L134.1 138.9L133.2 138.8L131.7 139.3L130.2 140.1L129.2 140.8L128.2 141.5L127.4 141.9L126.7 141.9L126.0 143.8L125.1 144.8L124.2 146.9L123.1 146.6L122.4 146.8L121.7 148.2L121.3 149.4L121.1 150.6L121.0 151.1L121.1 153.0L121.7 154.7L121.9 155.5L121.4 157.3L121.4 158.7L122.5 159.6L124.7 160.2L125.6 160.1L125.7 159.3L127.2 159.1L130.1 159.4L130.7 158.4L131.0 157.4L131.9 155.4L133.0 155.4L133.8 154.6L133.7 152.4L133.1 151.8L132.7 150.1L133.6 148.9L134.7 149.2L135.1 147.5L135.0 146.1L135.0 144.4L135.7 142.9L136.6 142.6L137.3 141.5L137.6 140.0L137.8 138.6L136.6 138.6Z"/><path id="b2" d="M135.2 138.7L137.8 138.6L139.0 138.5L140.0 138.4L141.3 138.5L142.5 139.4L143.6 140.0L144.6 139.4L146.4 139.0L148.0 139.7L148.6 139.8L149.7 138.8L152.0 137.6L153.3 138.7L153.6 140.6L155.0 141.5L155.7 139.7L157.1 138.2L158.7 137.5L160.1 137.8L161.1 137.3L161.9 134.5L162.2 133.4L162.5 132.1L161.2 131.3L160.9 130.9L161.4 129.4L160.7 128.4L159.8 127.7L158.8 125.7L158.1 124.1L158.0 125.1L155.8 126.0L154.1 126.7L153.6 125.8L153.0 125.3L151.1 125.4L150.2 123.9L149.9 122.7L151.1 121.4L152.3 121.2L153.1 120.5L152.8 119.7L152.1 118.2L151.2 116.5L149.8 114.8L150.0 114.2L150.4 113.3L149.2 112.7L146.9 111.7L145.7 111.3L145.0 111.6L143.9 112.2L142.6 112.3L141.2 111.4L140.4 111.9L140.0 113.1L139.0 114.1L137.3 115.3L136.1 115.2L135.5 116.1L134.4 117.6L132.8 117.9L131.3 118.4L130.2 118.6L129.3 119.9L128.7 121.3L127.9 121.2L126.5 122.0L125.0 122.9L124.4 123.1L123.7 124.0L123.3 125.1L123.2 125.9L124.2 127.7L124.9 129.0L124.7 129.4L124.1 129.5L125.4 129.9L126.0 130.5L125.6 131.3L126.2 132.1L128.6 132.9L130.3 133.8L131.1 135.0L132.6 135.8L133.9 136.3L133.6 136.8L133.7 137.7Z"/><path id="b3" d="M139.0 138.6L137.8 138.6L137.6 140.0L137.2 141.5L136.6 142.6L135.7 142.9L135.0 144.4L135.0 146.1L135.0 147.5L134.6 149.2L133.6 148.9L132.6 150.1L133.1 151.8L133.7 152.4L133.8 154.6L133.0 155.3L131.9 155.4L131.0 157.4L130.7 158.3L130.1 159.3L127.2 159.1L125.7 159.3L125.6 160.0L124.7 160.1L122.5 159.6L121.9 159.9L121.5 160.8L121.5 162.5L121.7 164.4L121.5 165.6L122.7 165.9L124.9 166.5L126.8 166.8L127.6 167.0L128.0 167.9L129.1 168.9L130.8 169.2L132.0 168.6L132.7 166.4L133.0 165.4L133.0 163.7L133.6 162.7L134.6 163.8L135.5 164.0L136.2 162.7L137.2 161.5L138.7 160.4L140.7 160.9L141.6 160.5L142.8 158.7L143.9 157.7L144.6 157.4L145.3 157.5L146.0 155.9L144.3 153.4L144.1 153.0L145.3 151.5L146.0 150.3L146.2 148.2L145.8 147.2L145.6 147.0L144.8 145.7L144.7 144.1L144.2 143.0L143.1 141.2L142.5 139.4L141.3 138.5L140.0 138.4Z"/><path id="b4" d="M168.7 149.5L168.7 148.6L168.3 146.3L168.0 145.7L168.8 144.2L168.6 142.6L167.6 142.6L166.4 143.2L165.6 142.2L164.1 140.1L162.8 138.7L162.6 137.7L162.5 136.2L161.9 134.5L161.1 137.2L160.1 137.8L158.7 137.4L157.0 138.2L155.6 139.7L154.9 141.5L156.0 141.3L156.1 143.2L155.6 145.1L155.2 145.1L154.6 146.7L154.9 148.2L156.8 149.5L158.0 150.5L157.8 151.1L158.1 150.6L159.5 151.4L162.2 152.0L164.2 151.3L164.4 150.3L164.2 150.3L165.5 150.0L167.2 149.5Z"/><path id="b5" d="M162.5 132.1L162.2 133.4L161.8 134.5L162.5 136.3L162.6 137.8L162.7 138.7L164.1 140.2L165.5 142.2L166.3 143.2L167.5 142.7L168.5 142.6L168.8 144.2L168.0 145.7L168.2 146.3L168.7 148.6L168.6 149.5L169.9 150.0L170.6 150.1L171.2 150.2L172.6 150.4L174.1 150.7L175.3 150.9L175.7 151.1L175.7 148.4L174.6 145.7L174.7 144.8L175.9 143.6L176.2 143.4L176.4 141.6L176.1 139.1L176.3 139.0L177.1 138.4L177.9 137.9L178.4 136.6L177.3 134.7L177.1 133.4L176.6 133.1L176.4 131.6L177.8 130.5L179.5 129.0L179.9 127.1L178.9 126.6L178.0 125.4L178.3 124.1L178.6 122.6L179.2 120.7L179.7 119.5L179.7 119.1L179.5 118.0L179.5 117.0L180.0 115.7L180.7 114.4L181.2 112.5L180.7 112.3L180.8 111.8L180.8 110.8L179.2 109.8L177.6 109.4L176.2 109.1L175.0 109.1L174.7 109.5L174.2 109.2L172.5 108.2L171.3 108.4L170.4 110.3L170.1 111.4L169.4 111.2L167.7 111.3L166.5 111.9L165.9 112.6L165.0 114.3L164.7 115.1L164.8 116.3L164.3 118.1L163.6 118.5L162.7 120.1L160.8 120.3L158.3 122.2L157.4 123.1L158.1 124.1L158.8 125.8L159.7 127.7L160.7 128.5L161.4 129.5L160.9 130.9L161.2 131.3Z"/><path id="b6" d="M179.7 119.5L179.3 120.7L178.6 122.5L178.3 124.1L178.0 125.3L178.8 126.6L179.9 127.1L179.5 129.0L177.7 130.5L176.4 131.6L176.6 133.1L177.1 133.4L177.2 134.8L178.4 136.6L180.1 136.4L181.3 136.8L181.9 137.1L182.5 137.3L184.1 137.5L186.1 137.6L187.4 137.5L188.0 137.6L189.0 136.7L190.0 134.8L190.2 134.3L189.8 132.2L189.8 131.3L189.6 131.1L189.6 128.8L190.0 127.0L189.5 125.7L188.3 124.4L188.4 123.8L188.3 122.7L188.6 121.7L188.6 120.5L188.8 119.9L187.1 119.0L185.1 117.9L185.3 117.4L185.2 116.2L183.6 115.2L181.8 115.0L181.6 113.5L181.1 112.5L180.7 114.3L180.0 115.7L179.5 117.1L179.4 118.0L179.7 119.1Z"/><path id="b7" d="M188.3 122.7L188.3 123.8L188.2 124.4L189.5 125.7L189.9 127.0L189.5 128.8L189.5 131.1L189.7 131.3L189.7 132.2L190.2 134.4L189.9 134.8L189.0 136.7L188.0 137.6L188.3 137.9L190.1 138.4L192.1 138.9L193.0 139.3L193.4 139.5L194.9 139.3L197.3 139.1L198.8 139.2L199.2 139.8L200.0 139.9L201.7 139.2L203.1 138.8L204.1 139.7L203.7 137.5L203.8 135.5L203.2 136.1L202.6 134.8L203.0 132.4L202.2 131.6L200.9 130.9L200.4 129.8L199.9 128.9L199.7 128.3L199.8 127.1L199.4 126.3L198.2 125.2L198.1 122.7L199.2 121.8L199.6 121.9L199.0 121.6L197.0 121.1L195.2 120.3L194.1 119.2L193.4 118.6L192.5 118.1L191.7 118.5L190.4 119.6L189.0 120.1L188.7 119.9L188.5 120.5L188.6 121.6Z"/><path id="b8" d="M178.4 136.6L177.9 137.8L177.0 138.3L176.2 139.0L176.1 139.1L176.3 141.6L176.2 143.3L175.9 143.6L174.6 144.8L174.6 145.7L175.6 148.4L175.7 151.0L175.3 150.9L175.7 151.1L175.7 153.0L176.0 154.0L177.9 154.7L178.9 156.7L178.5 158.1L178.3 158.9L177.9 160.0L177.3 160.8L179.8 161.1L181.7 162.2L182.2 162.4L183.0 162.0L184.8 162.3L186.3 163.0L186.9 161.4L187.7 159.1L187.7 157.9L187.7 157.3L188.2 155.5L189.0 154.4L189.4 152.0L189.1 150.7L189.3 150.8L189.6 148.6L190.0 148.5L189.8 147.7L190.0 145.7L190.0 145.1L189.4 143.8L189.2 141.3L189.6 141.0L189.2 139.6L188.4 137.9L188.0 137.6L187.4 137.5L186.1 137.6L184.1 137.5L182.5 137.3L181.9 137.1L181.3 136.7L180.1 136.3Z"/><path id="b9" d="M188.3 137.9L189.1 139.6L189.6 141.0L189.2 141.3L189.3 143.7L189.9 145.1L189.9 145.7L189.7 147.7L189.9 148.5L189.5 148.6L189.3 150.8L189.1 150.7L189.4 152.0L189.0 154.4L188.2 155.5L187.6 157.3L187.6 157.9L187.7 159.1L186.9 161.4L186.3 163.0L186.5 163.3L187.3 162.5L188.6 161.6L190.5 161.1L192.3 160.9L193.7 161.0L194.4 160.9L194.9 160.5L196.3 160.2L198.3 159.8L198.9 158.9L200.0 157.5L200.0 156.7L199.2 155.1L199.0 153.3L199.8 152.8L200.5 151.6L200.5 150.5L200.2 150.1L200.1 149.1L200.6 148.6L201.4 147.4L202.1 146.2L202.6 143.3L203.2 142.5L203.9 142.1L204.3 140.4L204.1 139.7L203.1 138.8L201.7 139.1L200.1 139.8L199.2 139.7L198.8 139.2L197.3 139.1L194.9 139.3L193.4 139.5L193.0 139.3L192.1 138.9L190.1 138.4Z"/><path id="b10" d="M85.3 187.4L86.3 187.4L87.2 188.2L88.3 188.0L89.4 186.4L90.7 185.5L90.2 184.7L90.1 182.9L90.6 182.8L92.3 181.7L93.5 180.3L94.0 179.4L94.5 178.4L94.4 177.2L94.7 175.5L94.7 175.2L94.6 173.8L95.0 171.7L94.3 169.5L92.7 168.3L92.3 168.3L92.3 168.0L92.2 166.5L91.9 165.3L91.7 164.6L90.6 162.7L90.1 161.5L90.8 160.8L90.7 159.0L89.9 157.9L89.4 156.8L88.3 154.9L88.0 154.2L87.5 153.9L85.9 153.9L84.0 154.6L83.1 156.1L83.0 156.0L82.3 155.2L81.2 155.1L80.5 156.7L79.8 158.6L77.8 160.9L76.4 160.1L75.9 159.5L75.5 160.3L73.2 160.4L71.2 159.9L70.7 160.6L70.8 162.8L70.2 164.3L69.3 165.6L68.7 165.7L68.6 165.3L68.9 165.5L69.0 167.4L69.2 169.6L70.3 170.2L71.6 170.1L72.4 169.8L73.2 169.5L73.6 169.5L75.0 170.3L75.5 173.4L75.4 174.4L74.4 175.1L75.3 177.0L76.0 177.3L77.9 177.8L77.6 179.1L77.3 180.1L76.5 180.9L76.3 183.1L77.5 184.6L78.6 184.7L78.4 186.0L78.1 187.2L79.5 187.9L81.2 188.7L82.4 188.4L83.7 187.5Z"/><path id="b11" d="M92.3 168.0L92.3 168.3L92.6 168.3L94.2 169.5L95.0 171.7L94.6 173.8L94.7 175.2L94.7 175.5L94.3 177.2L94.4 178.4L94.0 179.4L93.4 180.3L92.2 181.7L90.5 182.8L90.1 182.9L90.2 184.7L90.7 185.5L91.8 185.8L91.9 186.9L92.8 188.3L95.2 189.3L96.7 189.8L96.7 190.0L97.7 190.6L98.6 189.5L99.3 188.0L102.0 186.9L104.0 186.2L104.5 187.1L105.5 187.8L107.5 186.9L108.2 185.8L108.4 184.9L106.9 184.2L104.8 183.1L103.1 182.0L103.0 180.8L102.8 179.5L101.7 178.4L100.7 177.1L100.9 176.4L100.8 175.1L101.0 172.9L102.1 172.2L101.5 171.7L99.6 170.5L98.7 169.2L98.8 168.0L98.4 166.7L97.9 165.5L98.3 164.4L98.3 162.9L98.0 163.2L97.4 161.5L97.8 158.5L97.7 157.1L97.5 156.8L97.0 155.7L95.9 154.8L95.6 154.1L95.5 152.9L94.2 152.1L93.2 152.5L93.0 151.6L92.6 150.9L91.3 150.3L89.2 152.1L88.2 154.3L88.0 154.2L88.3 154.9L89.4 156.7L89.9 157.9L90.6 159.1L90.8 160.8L90.1 161.5L90.6 162.7L91.7 164.6L91.9 165.3L92.2 166.5Z"/><path id="b12" d="M103.3 149.3L102.6 150.5L101.2 150.7L99.4 151.4L98.1 151.7L98.4 150.8L97.1 150.8L94.2 152.1L95.4 152.9L95.6 154.1L95.8 154.8L97.0 155.7L97.5 156.8L97.6 157.1L97.8 158.5L97.3 161.6L97.9 163.2L98.2 162.9L98.3 164.4L97.8 165.5L98.4 166.7L98.8 168.0L98.7 169.3L99.6 170.6L101.4 171.7L102.1 172.2L101.0 172.9L100.8 175.1L100.9 176.4L100.7 177.1L101.7 178.4L102.8 179.6L102.9 180.9L103.1 182.0L104.7 183.1L106.8 184.3L108.4 184.9L108.4 184.4L109.2 184.8L111.7 184.8L113.2 184.0L113.1 184.2L114.0 183.4L115.5 181.9L116.8 181.4L117.3 179.5L117.3 178.2L116.8 177.8L117.1 175.3L116.9 173.8L116.4 173.3L116.6 172.0L116.8 171.3L115.3 171.3L114.2 170.4L113.3 168.9L112.2 167.9L112.0 167.8L112.5 165.6L112.6 163.6L111.6 163.4L111.4 162.8L111.0 161.2L109.1 159.6L107.3 159.1L106.7 159.1L106.4 158.3L107.0 157.0L107.3 155.7L106.6 153.7L104.8 153.2L104.3 153.1L104.4 152.3L103.9 150.7Z"/><path id="b13" d="M125.8 182.7L127.6 183.8L128.7 184.7L128.5 184.0L129.0 183.4L131.3 183.7L132.9 184.0L133.2 183.1L134.1 182.8L134.7 181.6L136.1 179.7L135.7 177.5L134.3 176.5L133.4 176.0L133.8 173.8L134.2 173.1L134.7 172.2L134.7 170.7L133.3 169.7L132.0 169.4L132.0 168.5L130.8 169.2L129.1 168.9L128.0 167.8L127.6 167.0L126.8 166.7L124.9 166.4L122.7 165.9L121.5 165.5L120.8 166.4L119.5 168.1L118.4 168.2L118.1 168.0L117.8 170.0L116.7 171.3L116.5 172.0L116.3 173.3L116.8 173.8L117.1 175.3L116.8 177.8L117.3 178.2L119.2 178.1L120.7 179.2L122.1 180.6L123.6 180.9L124.2 180.7L124.5 181.3Z"/><path id="b14" d="M113.1 184.1L114.3 184.9L116.8 186.2L117.5 188.1L117.8 188.7L117.7 188.5L118.4 188.4L120.0 189.2L121.9 189.3L123.3 188.8L123.9 188.8L125.0 188.9L127.2 188.7L128.1 187.6L128.5 186.3L128.7 184.7L127.7 183.8L125.8 182.7L124.5 181.3L124.3 180.6L123.6 180.8L122.1 180.5L120.7 179.2L119.2 178.1L117.2 178.2L117.2 179.5L116.7 181.3L115.5 181.9L114.0 183.3Z"/><path id="b15" d="M107.5 186.9L105.5 187.8L104.5 187.1L103.9 186.2L102.0 186.9L99.3 188.0L98.5 189.5L97.6 190.6L98.0 190.5L98.0 191.8L98.6 193.1L100.1 193.5L100.6 194.8L101.1 196.4L103.0 195.7L105.0 195.0L106.3 195.6L107.0 196.0L108.4 194.8L107.8 193.1L106.6 191.5L106.6 191.0L106.7 190.0L106.9 188.3Z"/><path id="b16" d="M112.2 196.2L112.8 194.5L113.4 192.3L113.9 191.1L114.5 190.6L115.3 189.9L116.4 188.5L117.5 188.1L116.8 186.2L114.3 184.9L113.1 184.1L113.2 183.9L111.8 184.8L109.2 184.8L108.4 184.3L108.4 184.9L108.1 185.8L107.4 186.9L106.9 188.3L106.7 190.1L106.6 191.0L106.6 191.6L107.7 193.1L108.3 194.8L109.2 194.9L110.8 194.7L111.3 195.8Z"/><path id="b17" d="M114.8 196.9L116.8 195.1L117.6 194.8L118.6 193.4L120.3 192.7L121.3 192.8L120.8 191.1L120.0 189.2L118.4 188.4L117.7 188.5L117.8 188.7L117.5 188.1L116.4 188.5L115.3 189.9L114.5 190.5L113.9 191.1L113.3 192.3L112.7 194.5L112.1 196.2L113.5 196.4Z"/><path id="b18" d="M121.3 192.8L121.0 193.6L121.8 193.8L124.6 193.4L126.5 193.5L126.5 194.9L126.8 195.0L127.4 194.1L129.0 192.8L128.6 191.4L127.7 190.6L127.3 190.0L127.3 188.6L125.0 188.9L123.9 188.8L123.3 188.7L121.9 189.2L120.0 189.1L120.7 191.1Z"/><path id="b19" d="M97.6 193.8L96.2 193.4L95.7 191.8L95.4 189.6L95.3 189.0L94.6 189.2L92.8 188.2L91.9 186.8L91.8 185.8L90.7 185.5L89.3 186.3L88.2 187.9L87.2 188.2L86.2 187.3L85.3 187.3L83.7 187.5L82.4 188.4L81.2 188.7L79.5 187.9L78.1 187.2L78.5 187.9L79.1 188.7L78.8 189.0L77.6 189.9L76.5 191.5L76.5 192.4L77.3 194.0L77.9 195.1L78.1 195.2L78.7 195.9L79.5 197.4L80.6 198.8L82.2 199.1L82.9 199.2L82.7 200.3L84.0 201.8L86.2 202.9L86.5 203.6L87.1 204.5L88.9 201.8L89.7 202.2L90.3 201.9L91.5 201.2L92.6 200.5L93.0 198.9L93.7 197.4L95.7 196.2L97.5 197.3L97.8 196.0Z"/><path id="b20" d="M137.1 188.4L137.9 187.2L137.7 185.7L137.2 183.9L136.4 183.5L134.1 182.8L133.2 183.1L132.9 184.0L131.2 183.7L129.0 183.4L128.5 184.0L128.7 184.7L128.5 186.3L128.0 187.6L127.2 188.7L127.2 190.0L127.7 190.6L129.8 189.9L131.3 189.9L132.2 190.1L133.3 189.4L134.9 189.0L136.4 189.1Z"/><path id="b21" d="M101.2 196.4L100.6 194.7L100.2 193.4L98.6 193.0L97.5 193.8L97.7 196.0L97.4 197.3L95.6 196.2L93.7 197.3L93.0 198.8L92.6 200.4L91.5 201.2L90.2 201.9L89.6 202.2L88.9 201.8L87.1 204.4L88.9 206.5L90.3 205.8L90.9 205.0L92.1 204.2L93.9 202.8L95.0 203.0L96.0 203.7L97.8 202.3L99.5 200.8L100.2 200.2L100.6 200.5L100.6 200.3L100.7 199.2L100.8 197.9Z"/><path id="b22" d="M101.1 196.4L100.7 197.9L100.6 199.2L100.5 200.2L100.6 200.4L101.7 201.3L103.2 201.9L104.4 202.6L105.7 203.5L106.5 202.9L107.2 202.1L107.3 200.6L107.0 199.5L106.9 198.2L107.7 197.1L109.2 194.9L108.4 194.8L107.0 196.0L106.3 195.6L104.9 194.9L103.0 195.7Z"/><path id="b23" d="M106.5 207.9L105.5 206.7L105.3 205.5L105.7 204.6L105.7 203.5L104.4 202.5L103.2 201.8L101.8 201.3L100.6 200.4L100.2 200.1L99.5 200.7L97.8 202.2L96.0 203.7L94.9 203.0L93.9 202.8L92.2 204.2L90.9 204.9L90.3 205.7L88.9 206.4L90.2 207.8L91.5 208.6L92.5 209.7L93.3 210.4L94.2 210.9L94.0 211.8L94.7 213.3L97.1 214.7L97.9 215.6L97.7 216.1L98.1 215.8L99.3 216.5L100.6 214.8L102.0 214.0L102.6 214.7L102.6 213.1L103.0 211.8L104.5 210.7L106.0 208.9L106.5 208.5Z"/><path id="b24" d="M106.4 207.9L106.4 208.5L105.6 209.2L103.8 211.3L102.6 212.2L102.6 214.3L102.2 214.2L100.7 214.5L99.3 216.4L100.5 217.6L101.2 218.7L101.8 220.5L101.8 222.0L102.3 222.6L103.8 222.9L104.8 223.2L105.2 223.8L106.1 224.5L107.1 225.0L108.4 225.8L109.7 226.8L110.8 227.2L111.6 227.3L111.9 227.2L112.6 226.3L114.6 226.0L116.6 226.1L117.2 224.7L117.0 224.1L116.6 222.8L116.7 221.0L116.1 220.0L116.1 220.4L116.4 219.0L116.7 216.4L116.3 215.7L116.0 214.1L116.5 213.2L117.2 212.6L116.9 209.8L115.1 208.8L115.4 208.4L115.8 206.7L115.8 205.7L115.9 206.2L116.1 204.2L116.3 201.8L116.4 200.6L117.0 199.3L116.3 199.2L115.3 198.7L114.9 196.8L113.6 196.4L112.1 196.2L111.3 195.8L110.8 194.7L109.2 194.9L107.7 197.1L106.8 198.3L106.9 199.5L107.3 200.6L107.2 202.1L106.5 202.9L105.7 203.5L105.7 204.6L105.3 205.4L105.4 206.6Z"/><path id="b25" d="M121.3 192.7L120.3 192.7L118.5 193.4L117.6 194.7L116.8 195.1L114.8 196.9L115.2 198.7L116.2 199.1L116.9 199.3L116.4 200.5L116.2 201.8L116.1 204.2L115.9 206.2L115.8 205.7L115.8 206.7L115.4 208.4L115.1 208.9L116.8 209.9L117.1 212.6L116.5 213.2L115.9 214.1L116.3 215.6L116.6 216.5L116.4 219.1L116.0 220.4L116.0 220.1L116.7 221.0L116.6 222.8L117.0 224.1L118.3 224.3L120.5 224.0L122.1 223.6L122.4 223.6L122.7 223.4L123.3 221.3L124.1 220.8L124.4 218.8L125.5 217.5L127.9 217.6L129.4 217.1L129.2 215.6L128.8 213.8L129.1 213.6L129.1 213.0L129.9 211.4L131.0 211.3L131.0 209.4L129.7 207.2L128.9 206.5L128.9 205.6L128.2 204.0L127.7 202.7L127.8 201.8L127.0 201.5L125.9 201.0L125.3 199.5L125.7 196.6L125.9 196.3L126.5 194.9L126.5 193.5L124.6 193.3L121.8 193.8L121.0 193.5Z"/><path id="b26" d="M130.9 211.3L131.4 209.3L131.0 207.1L130.7 207.0L131.3 205.6L132.8 205.1L133.9 203.6L134.0 201.7L133.9 201.6L132.9 200.8L132.9 199.7L133.5 198.7L133.0 198.1L132.2 196.0L132.2 194.5L132.0 194.2L131.7 193.5L130.7 193.0L129.0 192.7L127.4 194.1L126.8 195.0L126.5 194.8L125.9 196.2L125.7 196.6L125.2 199.5L125.9 201.0L127.0 201.5L127.8 201.8L127.7 202.7L128.2 204.1L128.9 205.6L128.8 206.6L129.7 207.3L131.0 209.5Z"/><path id="b27" d="M138.8 191.3L137.7 191.6L136.3 192.2L134.2 192.5L132.5 193.5L132.0 194.2L132.2 194.5L132.2 196.0L133.0 198.1L133.5 198.7L132.9 199.8L132.9 200.8L133.9 201.6L135.3 202.3L137.8 202.4L139.4 202.1L139.8 202.2L140.8 202.8L140.9 200.5L142.0 198.1L142.9 196.9L142.0 196.6L141.2 196.4L140.6 195.3L139.8 193.4L139.4 191.9L139.2 191.4Z"/><path id="b28" d="M129.1 212.9L129.1 213.6L130.6 212.6L132.1 212.2L133.3 212.7L133.8 213.7L134.8 214.8L135.5 215.3L135.8 215.9L137.5 217.4L137.9 215.7L138.2 215.5L138.6 214.0L139.2 212.9L140.1 211.6L141.1 209.7L141.6 209.4L141.9 209.2L141.8 208.4L141.9 206.8L141.8 205.2L142.1 204.2L141.9 203.5L140.8 202.8L139.8 202.2L139.4 202.1L137.8 202.4L135.3 202.3L133.9 201.6L134.0 201.6L133.9 203.6L132.8 205.1L131.3 205.6L130.6 207.0L131.0 207.0L131.4 209.2L130.9 211.2L129.9 211.4Z"/><path id="b29" d="M139.6 172.7L141.0 172.0L141.9 171.5L143.0 171.5L144.0 170.6L144.5 170.1L144.7 169.6L145.1 167.7L146.1 167.3L146.8 165.7L146.2 164.3L144.0 164.0L142.4 163.5L141.8 162.1L140.7 160.9L138.7 160.4L137.2 161.4L136.2 162.7L135.5 163.9L134.6 163.8L133.6 162.6L133.0 163.7L133.0 165.4L132.7 166.4L132.0 168.6L132.0 169.4L133.3 169.7L134.7 170.8L134.7 172.2L135.1 172.3L136.9 172.7Z"/><path id="b30" d="M161.2 159.2L161.8 161.7L162.2 162.5L163.5 162.6L165.3 162.5L166.3 162.7L166.6 163.4L167.5 164.2L168.9 165.1L170.4 166.3L171.9 167.4L172.6 166.8L172.7 164.8L174.0 164.0L175.4 164.3L175.9 162.3L176.9 161.1L177.4 160.8L177.9 159.9L178.3 158.9L178.6 158.0L179.0 156.7L178.0 154.7L176.1 154.0L175.7 153.0L175.7 151.0L175.3 150.9L174.1 150.7L172.6 150.3L171.3 150.2L170.6 150.1L169.9 150.0L168.6 149.5L167.2 149.5L165.6 150.0L164.3 150.2L164.5 150.2L164.1 151.2L162.1 151.9L159.5 151.4L158.1 150.5L157.8 151.0L157.6 152.9L157.6 154.1L158.9 154.6L160.1 155.7L159.7 157.8L159.5 158.8Z"/><path id="b31" d="M150.6 162.2L151.7 163.0L152.1 163.3L153.0 164.0L154.0 165.3L155.5 164.2L156.9 163.3L158.0 162.8L159.7 162.3L161.2 162.4L161.8 161.7L161.2 159.2L159.7 158.9L159.5 158.3L160.1 156.7L159.8 155.2L158.7 154.5L157.6 154.0L155.3 154.8L153.6 154.9L153.7 156.7L153.6 158.2L152.2 157.7L150.6 157.7L150.0 159.7Z"/><path id="b32" d="M146.8 165.7L147.5 164.7L147.5 164.4L148.3 162.6L149.9 162.4L150.7 162.2L150.1 159.7L150.7 157.7L149.5 157.1L148.3 157.1L147.6 156.9L146.0 155.9L145.3 157.4L144.6 157.3L143.8 157.6L142.8 158.7L141.5 160.5L140.7 160.9L141.8 162.2L142.3 163.6L144.0 164.0L146.2 164.3Z"/><path id="b33" d="M152.9 169.8L153.4 169.5L152.9 167.8L152.6 166.5L153.3 165.9L154.0 165.3L153.0 164.0L152.1 163.2L151.6 162.9L150.6 162.1L149.8 162.3L148.2 162.5L147.5 164.4L147.6 164.7L146.8 165.7L146.1 167.3L147.3 168.8L148.1 168.8L148.6 168.4L150.3 168.9Z"/><path id="b34" d="M143.3 180.7L142.7 178.6L141.6 176.8L140.7 175.4L140.4 174.0L140.6 173.2L139.6 172.7L137.0 172.6L135.2 172.2L134.7 172.1L134.2 173.1L133.8 173.8L133.3 176.1L134.2 176.5L135.6 177.5L136.1 179.8L134.7 181.6L134.1 182.8L136.3 183.5L138.5 183.5L139.3 182.0L139.9 181.0L141.8 181.9Z"/><path id="b35" d="M144.7 170.7L144.5 170.0L144.0 170.6L143.1 171.4L141.9 171.5L141.0 172.0L139.6 172.7L140.5 173.2L140.4 174.0L140.7 175.4L141.6 176.8L143.9 176.0L144.5 174.7L144.7 173.2Z"/><path id="b36" d="M148.8 172.9L148.1 172.4L147.4 172.0L146.0 171.4L144.7 170.7L144.7 173.2L144.5 174.7L143.9 176.0L145.3 176.5L146.2 177.4L146.6 178.4L147.9 178.4L149.3 177.2L150.4 176.5L149.6 174.7Z"/><path id="b37" d="M148.8 173.0L150.0 172.2L151.0 171.7L152.0 171.7L153.0 169.7L150.4 168.9L148.6 168.4L148.1 168.8L147.3 168.8L146.1 167.2L145.0 167.7L144.6 169.5L144.5 170.0L144.7 170.7L146.0 171.5L147.4 172.1L148.0 172.5Z"/><path id="b38" d="M150.3 176.5L150.3 177.9L151.5 177.2L153.7 176.4L155.5 176.4L154.8 175.2L154.8 173.1L155.3 172.9L155.6 172.1L154.9 171.3L154.5 170.4L153.4 169.4L152.9 169.7L151.9 171.7L150.9 171.7L150.0 172.2L148.8 172.9L149.5 174.7Z"/><path id="b39" d="M155.4 176.3L156.6 177.3L155.9 178.1L155.5 178.2L156.7 177.3L159.3 176.3L160.5 176.2L160.8 176.3L161.0 175.1L161.8 174.4L162.3 173.7L162.4 171.1L162.2 170.6L160.8 171.4L159.1 171.8L157.8 171.7L156.6 171.7L155.5 172.1L155.2 172.9L154.8 173.1L154.8 175.1Z"/><path id="b40" d="M163.2 178.1L162.2 176.7L160.8 176.3L160.4 176.2L159.3 176.2L156.7 177.3L155.5 178.2L155.9 179.7L157.0 180.9L157.7 181.6L157.9 181.7L159.1 182.0L160.0 182.2L161.5 182.1L163.1 181.8L163.5 180.9L163.2 180.2Z"/><path id="b41" d="M171.1 176.7L172.1 177.4L174.2 177.4L176.4 178.0L176.4 179.8L176.2 179.7L176.5 180.6L178.5 180.3L181.0 178.4L180.3 176.8L179.6 175.5L179.4 175.1L180.5 173.7L181.1 170.6L181.3 170.3L179.8 169.5L178.8 168.9L179.0 167.9L179.2 166.6L179.4 165.2L179.2 164.0L177.8 162.4L176.9 161.0L175.9 162.2L175.4 164.2L174.0 164.0L172.7 164.7L172.5 166.7L171.8 167.4L171.2 168.0L169.9 169.1L170.8 170.7L172.8 171.4L173.7 172.1L172.5 174.0L171.5 175.2Z"/><path id="b42" d="M176.5 179.7L176.5 177.9L174.3 177.3L172.1 177.4L171.1 176.7L170.7 176.6L170.5 177.4L169.6 177.9L168.4 178.8L169.4 179.7L170.0 180.4L170.4 181.1L170.0 182.6L169.8 183.9L171.0 185.2L172.3 184.7L173.1 184.3L173.9 183.9L174.0 181.7L175.0 181.2Z"/><path id="b43" d="M181.0 170.6L180.5 173.6L179.3 175.1L179.5 175.5L180.2 176.7L180.9 178.4L182.4 178.6L182.4 179.5L182.2 181.1L183.2 182.5L184.5 183.0L185.4 181.4L186.6 181.6L187.3 180.1L187.7 179.5L188.6 178.2L190.0 176.7L188.7 176.4L187.6 175.2L187.9 173.6L187.9 172.7L186.4 171.7L186.3 170.3L186.5 168.6L186.6 167.6L186.9 166.4L187.4 165.6L187.2 164.8L186.5 163.3L186.3 163.0L184.8 162.2L183.0 161.9L182.2 162.4L181.7 162.2L179.8 161.1L177.3 160.8L176.9 161.1L177.8 162.4L179.1 164.1L179.3 165.2L179.2 166.6L179.0 167.9L178.8 168.9L179.7 169.5L181.2 170.3Z"/><path id="b44" d="M186.5 163.3L187.2 164.8L187.4 165.5L186.9 166.4L186.6 167.5L186.5 168.6L186.3 170.3L186.3 171.7L187.8 172.7L187.8 173.6L187.5 175.2L188.7 176.4L189.9 176.7L191.0 176.8L190.8 177.3L191.9 177.3L195.0 176.5L197.4 175.9L197.4 176.3L197.2 177.1L198.6 176.5L200.5 175.4L201.9 173.9L202.8 174.0L203.6 174.0L204.1 172.3L204.6 171.7L204.7 169.8L204.9 167.8L205.5 167.3L206.2 166.1L204.8 165.1L203.6 164.0L202.7 163.5L201.8 162.9L201.4 161.7L200.2 160.3L198.3 159.8L196.3 160.2L195.0 160.4L194.4 160.8L193.7 161.0L192.3 160.8L190.5 161.0L188.6 161.6L187.2 162.5Z"/><path id="b45" d="M197.2 177.1L197.5 176.3L197.4 175.9L195.0 176.5L191.8 177.3L190.7 177.3L191.0 176.8L189.9 176.7L188.6 178.2L187.7 179.5L187.3 180.1L186.6 181.6L187.7 183.1L189.4 184.0L190.6 184.5L190.3 185.2L190.9 186.1L193.2 187.0L194.5 187.9L194.1 188.9L194.3 190.1L196.3 190.0L199.4 189.9L200.5 189.5L200.5 188.3L202.2 187.9L204.1 188.6L204.8 188.7L205.1 186.4L204.9 184.9L204.5 184.0L204.7 182.2L205.6 181.9L206.3 180.5L206.0 179.3L205.7 178.7L205.9 176.7L206.2 175.2L204.8 174.5L203.6 173.9L202.8 174.1L201.9 173.8L200.5 175.3L198.6 176.4Z"/><path id="b46" d="M173.9 183.9L175.5 184.6L177.7 185.6L179.3 186.1L179.3 185.6L179.4 185.2L180.7 184.5L182.8 185.5L184.2 185.3L184.4 184.9L184.6 182.9L183.2 182.4L182.3 181.0L182.4 179.5L182.4 178.6L180.9 178.3L178.5 180.2L176.5 180.6L176.2 179.6L176.5 179.7L175.0 181.2L173.9 181.7Z"/><path id="b47" d="M179.4 185.2L179.5 188.2L180.2 189.9L180.7 190.7L180.3 191.7L180.0 191.8L180.2 193.7L180.3 196.2L180.4 196.3L182.0 196.4L182.5 197.4L182.7 198.6L184.1 199.4L186.3 199.9L187.8 200.2L187.9 198.9L188.4 198.1L190.2 197.7L191.9 195.7L192.2 194.6L191.9 193.7L192.5 193.4L193.5 191.7L194.2 190.4L194.3 190.1L194.1 188.9L194.5 187.9L193.3 187.0L190.9 186.1L190.3 185.1L190.6 184.5L189.4 184.0L187.7 183.1L186.6 181.6L185.4 181.4L184.5 182.9L184.4 184.9L184.1 185.3L182.7 185.4L180.6 184.5Z"/><path id="b48" d="M173.9 183.9L173.1 184.3L172.2 184.7L170.9 185.2L170.3 185.7L169.9 186.8L169.4 188.5L168.6 188.9L168.7 191.0L169.2 192.2L168.8 193.5L168.1 195.0L169.0 195.4L169.1 197.6L170.5 199.4L172.9 197.9L174.2 197.8L174.5 198.0L175.1 197.3L176.4 197.0L177.7 197.2L179.0 196.9L180.5 196.3L180.3 196.2L180.3 193.7L180.0 191.7L180.3 191.6L180.7 190.6L180.3 189.9L179.5 188.1L179.4 185.1L179.3 185.6L179.3 186.0L177.7 185.6L175.6 184.6Z"/><path id="b49" d="M164.8 186.1L164.5 187.3L164.1 188.9L163.6 190.1L163.4 191.8L165.6 192.4L167.0 193.8L167.1 194.9L168.2 195.0L168.9 193.5L169.3 192.2L168.8 190.9L168.6 188.9L169.4 188.4L169.9 186.7L169.0 187.6L166.6 187.0Z"/><path id="b50" d="M202.2 187.9L200.5 188.3L200.6 189.4L199.4 189.8L196.3 189.9L194.3 190.1L194.2 190.4L193.5 191.7L192.5 193.3L191.9 193.7L192.2 194.6L191.8 195.6L190.2 197.6L188.4 198.0L187.9 198.8L187.7 200.1L186.3 199.9L186.3 201.0L186.6 203.0L187.0 204.3L186.5 205.8L186.1 206.9L187.0 207.3L187.7 209.1L187.4 210.2L187.9 210.5L188.9 211.3L189.3 212.8L190.1 211.8L190.4 212.5L192.4 213.4L195.2 213.6L196.9 212.6L196.7 211.7L196.3 211.9L197.4 212.9L200.5 213.5L202.1 213.0L201.9 211.6L202.6 209.4L204.6 209.5L205.1 208.0L204.5 207.4L203.8 206.5L204.2 204.5L205.4 202.9L205.4 201.3L205.0 200.3L204.9 199.9L204.8 199.5L204.7 197.3L204.9 195.7L205.5 195.1L205.3 193.8L204.4 192.8L204.2 191.6L205.0 189.6L204.2 188.6Z"/><path id="b51" d="M158.9 197.6L160.1 197.0L160.8 197.3L161.9 199.2L162.8 201.3L163.2 202.1L164.0 201.6L165.7 200.6L167.8 200.6L169.0 201.1L169.4 201.0L169.7 200.6L170.5 199.3L169.2 197.5L169.1 195.3L168.2 194.9L167.1 194.8L167.0 193.8L165.6 192.4L163.4 191.8L162.0 192.4L160.8 192.5L160.0 192.8L159.6 193.3L159.1 195.7Z"/><path id="b52" d="M164.8 186.1L165.0 185.9L164.8 185.8L163.3 186.9L160.8 186.9L159.4 186.3L159.9 188.4L159.4 190.0L159.6 190.9L160.0 192.8L160.7 192.5L162.0 192.4L163.5 191.8L163.6 190.1L164.1 188.9L164.5 187.3Z"/><path id="b53" d="M139.1 191.4L139.4 191.9L139.8 193.4L140.6 195.4L141.1 196.4L142.0 196.6L142.9 196.9L143.5 197.4L144.9 197.5L146.5 196.9L147.3 196.4L148.1 196.2L150.0 196.0L152.1 196.5L152.4 195.4L152.1 193.3L151.9 193.0L151.8 192.6L151.5 190.7L151.4 189.7L150.7 188.9L149.1 187.6L148.8 186.0L147.3 185.9L145.0 186.6L144.2 187.4L144.1 187.8L143.3 188.9L141.6 188.3L140.1 189.6Z"/><path id="b54" d="M142.9 196.9L142.0 198.1L140.8 200.4L140.8 202.8L141.8 203.5L142.0 204.2L143.9 204.0L145.7 203.2L146.9 203.3L147.8 204.3L148.7 204.6L149.9 203.8L151.3 203.2L152.4 203.7L153.3 201.6L153.6 199.5L153.0 200.5L152.5 199.9L152.4 198.1L152.1 196.5L150.0 196.0L148.1 196.1L147.3 196.4L146.5 196.8L144.9 197.4L143.5 197.4Z"/><path id="b55" d="M152.0 196.5L152.4 198.2L152.4 199.9L153.0 200.5L153.9 199.6L155.2 198.7L156.7 198.9L157.6 197.7L159.0 197.6L159.2 195.7L159.6 193.3L158.8 193.5L156.7 193.3L154.5 193.7L152.4 193.8L151.9 193.0L152.1 193.3L152.3 195.4Z"/><path id="b56" d="M150.6 188.9L151.4 189.7L151.5 190.7L151.8 192.6L151.9 193.0L152.4 193.8L154.6 193.7L156.8 193.3L156.2 191.3L156.6 189.1L156.7 188.0L155.7 187.2L155.0 186.2L154.2 185.6L153.5 185.5L151.8 186.8Z"/><path id="b57" d="M163.2 202.1L162.8 201.2L161.8 198.9L160.7 197.1L159.8 197.2L158.3 198.2L157.4 199.8L158.5 200.8L159.6 202.3L159.2 203.9L159.0 203.9L160.0 203.7L161.1 201.8L162.5 201.6Z"/><path id="b58" d="M159.2 203.8L159.4 201.8L157.9 200.3L156.7 198.8L155.1 198.6L153.9 199.5L153.0 200.5L153.5 199.4L153.3 201.6L152.4 203.7L153.3 205.1L154.4 206.9L155.2 204.5L156.2 203.3L158.0 203.3Z"/><path id="b59" d="M159.5 186.3L158.8 186.5L158.3 188.1L156.7 188.0L156.6 189.1L156.2 191.3L156.7 193.3L158.8 193.6L159.6 193.3L160.0 192.8L159.7 190.9L159.4 190.0L160.0 188.4Z"/><path id="b60" d="M138.8 191.4L139.2 191.4L140.1 189.6L141.7 188.3L143.4 188.9L144.1 187.8L143.6 185.2L143.0 184.2L141.5 183.1L140.1 181.9L140.0 181.0L139.3 181.9L138.4 183.4L136.3 183.5L137.1 183.8L137.7 185.7L137.9 187.2L137.1 188.4L137.4 190.2Z"/><path id="b61" d="M137.1 188.4L136.4 189.0L134.9 189.0L133.3 189.4L132.1 190.0L131.2 189.9L129.8 189.9L127.7 190.6L128.5 191.4L128.9 192.8L130.6 193.0L131.7 193.5L132.0 194.2L132.6 193.6L134.3 192.5L136.3 192.2L137.8 191.7L138.8 191.4L137.5 190.2Z"/><path id="b62" d="M145.2 184.7L144.8 181.8L143.7 181.1L143.6 181.0L143.3 180.7L141.8 181.9L139.9 181.0L140.1 181.9L141.4 183.1L143.0 184.2L143.6 185.2L143.9 184.3L144.3 184.9Z"/><path id="b63" d="M150.3 178.3L150.3 177.9L150.4 176.4L149.2 177.1L147.8 178.3L146.6 178.3L146.4 178.2L146.2 178.7L148.2 179.3L150.1 179.5L150.4 179.0L150.3 178.4Z"/><path id="b64" d="M145.2 184.4L146.8 183.7L148.4 183.0L149.4 182.9L149.7 181.8L148.8 180.9L146.0 179.7L145.2 181.1L144.7 181.8Z"/><path id="b65" d="M154.0 182.7L153.0 183.2L152.1 184.2L150.9 184.8L150.6 185.3L151.8 186.9L153.5 185.6L154.2 185.6L153.7 186.0L152.9 183.8Z"/><path id="b66" d="M158.6 184.1L156.5 185.1L154.4 185.7L153.7 186.0L154.2 185.6L155.0 186.2L155.7 187.1L156.7 188.0L158.3 188.1L158.9 186.5L158.6 186.7L159.1 185.9Z"/><path id="b67" d="M158.8 186.6L159.5 186.3L160.9 186.9L163.4 187.0L164.9 185.8L163.6 184.8L163.0 183.5L163.1 181.7L161.5 182.1L160.1 182.2L159.1 182.0L157.9 181.7L158.5 184.2L159.1 186.0L158.6 186.8Z"/><path id="b68" d="M144.1 187.8L144.2 187.5L145.0 186.7L147.3 186.0L148.8 186.0L148.6 185.4L146.6 185.7L145.2 184.6L144.4 184.9L143.9 184.3L143.6 185.2Z"/><path id="b69" d="M148.8 186.0L149.1 187.7L150.7 188.9L151.9 186.8L150.7 185.3L150.9 184.9L150.0 183.5L149.4 182.9L148.8 184.1L148.5 185.5Z"/><path id="b70" d="M155.9 178.0L156.3 179.6L155.3 179.4L153.2 179.5L154.2 181.5L154.3 182.6L155.2 182.0L156.4 181.6L157.7 181.6L157.0 180.9L155.9 179.7L155.5 178.2Z"/><path id="b71" d="M149.9 183.5L151.2 183.3L152.4 183.0L151.5 181.8L151.0 179.6L150.5 180.5L150.0 181.2L149.7 181.8L149.3 182.9Z"/><path id="b72" d="M220.3 166.0L221.0 168.7L221.5 170.7L223.5 170.0L224.0 169.1L224.6 169.8L226.6 171.1L228.9 172.0L229.4 171.6L230.0 170.6L231.3 170.6L232.8 170.3L233.9 169.5L234.9 169.1L236.1 168.0L237.0 167.1L237.3 166.0L236.8 164.8L236.0 164.0L234.9 162.9L233.6 161.2L234.1 160.7L234.0 161.1L232.0 160.2L230.4 158.5L230.0 156.8L229.7 156.2L229.1 156.2L228.0 157.3L226.2 157.9L225.2 159.4L224.9 159.2L224.0 159.1L222.6 161.0L221.9 162.6L221.8 163.9L221.6 163.9L221.1 163.8L220.7 164.6Z"/><path id="b73" d="M213.8 162.6L213.5 162.6L212.5 163.0L211.2 164.5L211.3 165.0L212.1 165.2L213.8 165.8L215.2 167.1L216.0 168.6L217.0 169.5L217.8 169.3L218.5 167.3L220.4 166.0L220.7 164.7L221.1 163.8L221.6 164.0L221.8 163.9L220.8 163.8L218.4 163.1L216.2 162.0L215.2 161.4L214.7 161.9Z"/><path id="b74" d="M216.9 169.5L216.8 169.3L218.0 169.2L219.0 169.9L220.5 171.1L221.5 170.7L221.1 168.7L220.4 166.0L218.4 167.2L217.8 169.3Z"/><path id="b75" d="M213.7 174.8L215.9 175.2L217.3 175.5L216.9 176.2L216.5 176.9L217.5 177.4L218.8 177.2L220.3 175.7L221.5 174.1L221.2 172.8L221.2 172.0L220.5 171.1L218.9 169.9L218.0 169.2L216.9 169.3L215.3 170.6L214.2 171.4L214.0 172.0L213.8 173.3Z"/><path id="b76" d="M211.3 164.5L210.0 165.2L208.9 166.4L207.7 166.4L206.1 166.1L205.4 167.4L204.8 167.9L204.6 169.8L204.5 171.7L204.1 172.3L203.5 174.0L204.7 174.5L206.2 175.2L207.6 174.9L209.3 174.7L210.4 175.3L210.8 175.9L211.8 175.5L213.8 174.8L213.8 173.3L213.9 172.0L214.2 171.4L215.3 170.6L216.9 169.3L217.0 169.5L216.0 168.6L215.2 167.1L213.8 165.8L212.1 165.2L211.3 165.0Z"/><path id="b77" d="M205.0 189.7L205.8 189.7L206.6 189.5L207.7 188.8L209.0 188.2L210.8 188.6L212.9 189.8L214.1 190.5L213.9 190.0L214.2 189.4L216.4 189.7L219.1 190.3L220.1 190.0L220.2 189.1L220.2 187.6L220.3 186.2L219.7 185.2L219.1 184.6L219.9 182.9L220.8 180.3L219.9 179.5L218.4 178.6L217.5 177.4L216.5 176.9L216.9 176.2L217.3 175.5L215.9 175.2L213.7 174.8L211.8 175.4L210.9 175.9L210.4 175.3L209.3 174.7L207.6 174.9L206.2 175.2L205.9 176.6L205.7 178.7L206.0 179.3L206.2 180.5L205.6 181.9L204.7 182.2L204.5 184.0L204.9 184.9L205.1 186.4L204.8 188.7L204.1 188.6Z"/><path id="b78" d="M238.0 229.4L236.8 231.0L235.3 231.6L234.4 233.4L234.9 233.5L235.4 235.1L235.0 236.5L234.3 237.2L234.2 238.5L234.1 240.1L233.3 242.2L232.2 243.8L233.4 244.1L235.8 244.4L237.6 244.6L237.9 244.0L238.3 243.1L240.0 243.1L241.5 244.1L242.2 244.9L243.0 244.3L244.9 242.9L246.3 242.1L247.0 241.9L247.2 241.9L247.6 241.8L248.5 241.9L249.0 240.1L248.2 238.6L246.2 236.7L244.2 235.5L244.2 234.9L244.6 234.6L243.1 234.0L241.7 233.3L241.2 232.5L239.9 231.4L238.5 230.3Z"/><path id="b79" d="M236.8 231.0L236.0 229.9L234.2 228.4L232.6 227.5L231.7 227.2L230.8 226.6L229.9 225.6L228.8 225.0L227.7 224.9L226.9 225.4L225.6 226.3L224.2 226.6L223.0 228.0L222.0 228.7L221.1 229.0L220.5 230.0L220.0 230.1L219.1 231.1L219.7 231.5L219.2 232.8L218.9 234.5L218.9 236.0L218.6 236.6L218.1 237.7L218.1 238.9L218.1 240.4L218.5 241.8L220.6 242.5L222.2 242.7L222.8 243.0L222.6 243.4L223.1 243.4L225.8 243.5L227.5 243.9L228.1 243.7L229.7 243.2L231.7 243.1L232.5 243.4L232.2 243.8L233.3 242.2L234.1 240.1L234.2 238.5L234.4 237.2L235.1 236.5L235.4 235.1L234.9 233.5L234.4 233.4L235.3 231.6Z"/><path id="b80" d="M227.7 220.4L226.0 219.5L225.9 218.5L226.2 217.8L225.2 217.4L223.3 217.0L221.9 216.5L220.8 216.4L220.2 216.0L219.4 216.4L217.7 217.7L215.7 218.2L214.9 218.0L214.5 218.6L214.2 219.1L213.1 220.6L211.6 222.3L210.5 223.3L212.1 224.8L213.6 225.3L213.4 226.1L213.6 227.1L215.2 227.4L215.9 228.1L216.8 229.7L219.1 231.1L220.1 230.1L220.5 230.1L221.2 229.0L222.0 228.7L223.0 228.1L224.2 226.7L225.7 226.3L226.9 225.4L227.7 224.9L227.6 224.0L227.6 222.3Z"/><path id="b81" d="M228.5 219.8L229.3 219.3L230.4 219.3L230.9 216.8L230.4 215.4L229.7 214.2L230.1 212.9L231.6 213.2L230.0 212.2L228.1 211.5L227.5 211.9L226.7 213.5L226.3 215.3L226.3 216.7L226.3 217.3L225.9 218.5L225.9 219.5L227.7 220.5Z"/><path id="b82" d="M238.0 220.5L238.4 220.1L238.6 217.3L238.8 216.4L237.9 214.9L236.5 213.5L237.0 213.9L237.9 212.9L236.4 211.6L233.3 210.6L232.5 210.5L232.5 211.6L231.5 213.2L230.0 212.9L229.7 214.2L230.3 215.4L230.8 216.9L230.3 219.3L229.3 219.3L228.4 219.8L229.8 219.3L230.4 219.2L231.9 219.8L233.8 220.4L235.0 220.5L236.1 220.3Z"/><path id="b83" d="M239.8 222.0L238.0 220.5L236.1 220.2L234.9 220.4L233.7 220.3L231.9 219.8L230.5 219.2L229.8 219.2L228.4 219.8L227.6 220.4L227.5 222.3L227.5 224.1L227.7 224.9L228.8 225.0L229.9 225.6L230.8 226.6L231.7 227.2L232.6 227.5L234.2 228.4L236.0 229.9L236.8 231.0L238.0 229.5L238.7 227.2L238.7 227.1L239.3 225.4L240.3 224.1L240.5 223.3Z"/><path id="b84" d="M176.3 230.2L174.9 231.1L173.8 230.4L172.4 229.4L170.4 229.5L169.6 230.9L169.1 232.1L167.7 233.1L165.9 233.0L164.5 234.0L163.9 233.6L163.7 233.4L162.9 233.3L161.1 233.4L160.2 232.6L159.4 233.8L157.6 235.1L155.5 235.9L154.3 236.2L153.8 235.8L152.9 236.8L152.0 237.5L150.6 237.9L148.8 237.1L147.8 235.8L147.8 235.1L147.1 235.1L145.1 234.8L145.6 237.4L145.7 238.6L146.2 238.5L147.0 239.8L146.8 241.0L146.0 242.1L146.2 243.9L147.2 245.1L148.0 245.9L149.1 247.2L150.2 247.8L150.4 248.1L149.9 248.6L149.8 248.9L151.3 248.6L153.5 247.3L154.9 246.4L155.6 246.3L156.8 245.9L158.6 245.6L160.1 246.0L160.7 246.5L161.2 246.1L162.0 245.3L163.4 245.6L164.8 246.4L166.0 246.2L167.0 245.0L168.3 244.1L170.0 244.1L171.4 244.1L172.0 243.9L172.7 244.2L174.6 244.1L176.3 242.7L176.4 241.8L176.4 241.0L176.9 240.6L177.8 240.4L178.7 238.2L179.5 237.3L180.1 236.4L180.5 234.9L180.2 235.0L179.3 234.0L179.2 231.8L178.6 230.9L177.7 230.1Z"/><path id="b85" d="M145.1 234.1L145.1 234.9L147.1 235.2L147.7 235.2L147.7 235.8L148.8 237.2L150.6 238.0L152.0 237.5L152.9 236.8L153.8 235.8L154.3 236.3L155.5 235.9L157.6 235.2L159.4 233.9L160.2 232.6L161.1 233.4L162.9 233.4L161.8 231.2L160.3 229.3L159.8 228.8L159.8 227.4L158.8 225.5L157.9 224.5L156.8 224.6L155.8 226.1L154.6 226.4L153.5 226.6L152.7 226.4L151.6 228.1L150.2 230.5L148.8 230.6L147.9 230.9L147.1 231.7L146.2 233.3Z"/><path id="b86" d="M151.0 221.7L150.2 223.4L148.6 223.1L147.1 223.1L146.6 223.7L146.2 225.4L144.8 227.0L143.1 226.5L144.0 227.7L144.3 229.7L144.3 230.6L144.9 231.4L145.3 233.2L145.1 234.1L146.2 233.4L147.1 231.7L147.9 230.9L148.8 230.6L150.2 230.6L151.6 228.1L152.6 226.5L153.5 226.6L154.6 226.5L155.8 226.2L156.8 224.6L156.5 224.1L155.8 223.4L154.6 222.6L153.1 221.8L151.9 221.5Z"/><path id="b87" d="M151.0 221.7L151.3 220.1L151.7 219.1L151.9 216.8L152.2 216.4L149.8 216.2L149.5 217.1L149.7 217.6L147.7 217.2L144.6 217.1L143.4 217.8L143.5 217.9L142.4 216.9L140.5 216.5L139.6 217.5L138.6 218.4L139.0 219.6L138.5 220.1L138.7 220.4L140.3 221.4L141.7 222.7L143.1 223.6L143.1 224.3L142.6 225.6L143.1 226.5L144.9 227.0L146.3 225.5L146.6 223.7L147.1 223.2L148.7 223.2L150.3 223.4Z"/><path id="b88" d="M137.5 217.3L138.7 218.5L139.6 217.6L140.5 216.5L142.4 216.9L143.5 217.9L143.4 217.9L144.6 217.1L147.7 217.2L149.7 217.6L149.5 217.1L149.8 216.2L152.2 216.5L153.6 216.4L154.6 214.5L154.4 214.5L152.8 213.0L151.6 211.0L151.9 210.6L151.4 209.9L151.0 209.8L149.4 210.3L147.7 210.5L147.0 210.1L146.0 209.7L143.6 209.4L141.8 209.1L141.6 209.4L141.0 209.6L140.1 211.6L139.2 212.9L138.6 213.9L138.1 215.5L137.8 215.6Z"/><path id="b89" d="M154.5 206.8L153.3 205.1L152.5 203.7L151.3 203.1L149.9 203.7L148.7 204.6L147.8 204.2L146.9 203.2L145.7 203.1L143.9 203.9L142.0 204.2L141.7 205.2L141.9 206.8L141.8 208.4L141.8 209.1L143.6 209.5L146.0 209.7L147.0 210.2L147.6 210.6L149.3 210.4L151.0 209.9L151.4 209.9L151.8 210.6L153.2 209.7L154.2 208.0L154.6 207.6Z"/><path id="b90" d="M169.4 201.0L169.2 201.8L169.2 203.0L169.7 205.4L169.5 206.9L169.3 207.7L170.9 208.9L171.5 209.1L171.3 208.8L172.4 209.4L174.5 211.3L175.7 213.2L177.0 213.1L176.9 212.3L177.7 211.7L180.0 211.2L182.0 211.0L182.7 211.7L183.7 212.2L185.6 211.2L186.9 209.9L187.4 210.2L187.7 209.2L187.1 207.3L186.2 206.9L186.5 205.8L187.1 204.3L186.7 203.0L186.3 201.0L186.3 199.9L184.2 199.4L182.7 198.5L182.6 197.3L182.0 196.4L180.4 196.3L179.0 196.9L177.7 197.2L176.4 196.9L175.1 197.2L174.5 197.9L174.1 197.8L172.9 197.9L170.4 199.4L169.7 200.6Z"/><path id="b91" d="M169.0 215.5L169.0 215.5L169.6 217.6L169.1 219.7L167.3 220.4L167.8 221.3L169.4 222.4L170.7 222.8L171.6 222.8L172.5 222.7L172.3 222.7L173.1 221.0L174.3 219.8L174.7 218.9L174.7 217.1L174.4 216.7L174.7 216.5L174.0 215.4L172.3 215.8L170.6 215.6L169.5 215.4Z"/><path id="b92" d="M169.4 201.0L169.0 201.1L167.8 200.6L165.7 200.6L164.0 201.6L163.2 202.1L162.4 201.6L161.1 201.7L159.9 203.7L160.6 204.7L161.5 205.8L161.9 207.5L162.1 207.2L162.0 207.5L161.6 209.7L162.8 210.7L165.1 211.0L166.5 209.4L167.5 208.3L168.3 208.1L169.4 207.7L169.5 206.9L169.7 205.4L169.3 203.0L169.2 201.8Z"/><path id="b93" d="M174.0 215.5L174.4 213.6L175.8 213.2L174.6 211.3L172.5 209.3L171.3 208.8L171.5 209.1L170.9 208.9L169.4 207.7L168.2 208.0L167.5 208.2L168.0 210.7L167.8 212.5L168.0 213.3L168.5 215.0L169.0 215.5L169.5 215.4L170.6 215.6L172.4 215.8Z"/><path id="b94" d="M170.5 229.5L169.1 228.6L168.4 227.7L167.9 227.1L167.3 227.0L167.3 226.3L167.0 225.9L164.9 226.1L163.1 227.4L161.8 227.5L161.0 228.2L160.3 229.4L161.7 231.2L162.8 233.4L163.7 233.5L163.9 233.7L164.5 234.0L166.0 233.0L167.8 233.1L169.1 232.1L169.6 231.0Z"/><path id="b95" d="M156.0 206.9L155.6 206.5L154.6 207.5L154.1 208.0L153.1 209.7L151.8 210.6L151.6 211.0L152.8 213.1L154.4 214.5L155.6 214.1L156.8 212.9L157.5 212.1L158.3 211.6L160.0 211.7L158.9 210.6L157.0 208.6Z"/><path id="b96" d="M154.4 214.4L154.6 214.5L154.7 215.1L154.8 215.1L156.1 214.9L158.5 215.7L159.6 217.2L160.5 217.6L161.5 215.2L163.1 213.4L162.6 212.3L161.5 210.9L161.0 211.3L160.0 211.7L158.3 211.5L157.5 212.1L156.9 212.8L155.6 214.1Z"/><path id="b97" d="M163.1 213.4L161.5 215.2L160.4 217.6L161.3 219.1L161.4 218.7L161.4 219.4L163.2 220.0L164.6 220.9L164.8 221.9L165.5 221.5L167.4 220.4L169.2 219.7L169.6 217.6L169.0 215.5L169.0 215.5L168.5 214.9L166.6 214.7L164.9 214.6L164.3 214.3L164.1 213.8Z"/><path id="b98" d="M156.4 224.1L157.2 223.9L157.6 223.1L158.0 222.4L159.2 221.3L161.5 219.4L161.5 218.7L161.3 219.1L160.5 217.5L159.6 217.1L158.5 215.6L156.1 214.9L154.8 216.1L154.6 218.1L154.4 218.6L154.1 219.7L154.0 220.7L155.0 221.1L155.7 221.9L155.7 223.4Z"/><path id="b99" d="M156.4 224.1L156.7 224.6L157.8 224.6L158.8 225.6L159.7 227.5L159.8 228.8L160.3 229.4L161.1 228.2L161.8 227.5L163.1 227.4L164.9 226.1L164.2 224.8L163.7 222.9L163.8 221.4L163.2 219.9L161.4 219.4L159.2 221.3L158.0 222.3L157.6 223.0L157.1 223.9Z"/><path id="b100" d="M167.3 226.3L167.2 226.9L167.8 227.1L168.3 227.8L169.0 228.6L170.4 229.5L172.4 229.4L173.8 230.4L174.9 231.1L176.3 230.2L175.4 229.6L173.9 228.4L172.9 227.3L173.5 225.9L173.7 224.0L172.5 222.7L171.6 222.7L170.7 222.7L169.4 222.3L168.5 223.0L167.7 224.5Z"/><path id="b101" d="M164.9 226.2L167.0 226.0L167.3 226.3L167.7 224.6L168.5 223.0L169.5 222.4L167.9 221.3L167.4 220.4L165.5 221.4L164.8 221.8L164.6 220.8L163.2 219.9L163.8 221.4L163.7 222.9L164.1 224.8Z"/><path id="b102" d="M161.6 209.6L161.5 210.9L162.5 212.2L163.1 213.4L164.1 213.8L164.3 214.3L164.9 214.6L166.6 214.7L168.5 215.0L168.1 213.3L167.9 212.6L168.0 210.7L167.5 208.2L166.5 209.3L165.0 210.9L162.8 210.6Z"/><path id="b103" d="M152.0 137.6L149.6 138.7L148.6 139.7L148.0 139.6L146.4 139.0L144.6 139.4L143.6 140.0L142.5 139.3L143.0 141.1L144.2 143.0L144.7 144.1L144.8 145.7L145.6 147.0L145.8 147.3L146.2 148.3L148.1 146.6L149.6 147.5L150.3 148.4L151.3 147.2L153.2 146.4L154.6 146.7L155.2 145.1L155.6 145.1L156.2 143.2L156.0 141.3L154.9 141.5L153.6 140.5L153.3 138.6Z"/><path id="b104" d="M146.2 148.2L145.9 150.3L145.3 151.5L144.1 153.0L144.2 153.5L146.0 156.0L147.6 157.0L148.3 157.2L149.5 157.1L150.6 157.8L152.2 157.7L153.6 158.2L153.7 156.8L153.6 154.9L155.3 154.8L157.6 154.1L157.6 152.9L157.8 151.0L158.0 150.4L156.8 149.5L154.9 148.2L154.6 146.7L153.2 146.4L151.3 147.2L150.3 148.4L149.6 147.5L148.1 146.5Z"/><path id="b105" d="M200.2 150.1L200.4 150.5L200.5 151.6L199.8 152.8L199.0 153.4L199.2 155.1L200.0 156.7L200.0 157.5L198.9 158.9L198.2 159.8L200.2 160.3L201.4 161.7L201.8 162.9L202.7 163.5L203.6 164.0L204.7 165.1L206.2 166.2L207.7 166.4L208.8 166.4L210.0 165.2L211.2 164.5L212.5 163.0L213.5 162.6L213.9 162.6L213.2 160.4L213.4 158.5L213.4 156.6L213.2 155.5L213.5 155.8L213.9 154.3L213.8 152.0L213.8 150.8L214.2 149.6L214.1 149.1L213.6 148.1L213.6 146.1L214.7 144.7L214.8 144.0L214.2 143.0L213.3 141.7L212.3 141.2L211.0 141.2L210.0 140.9L209.0 140.8L208.2 141.3L207.0 142.2L205.5 143.0L204.1 142.6L204.2 142.3L204.3 140.3L203.9 142.0L203.2 142.5L202.6 143.2L202.1 146.1L201.5 147.4L200.6 148.6L200.1 149.1Z"/><path id="b106" d="M214.6 144.7L213.5 146.1L213.5 148.1L214.0 149.2L214.1 149.6L213.8 150.8L213.8 152.0L213.9 154.3L213.5 155.8L213.2 155.5L213.3 156.6L213.4 158.4L213.2 160.4L213.8 162.7L214.7 162.0L215.2 161.4L216.2 162.0L218.4 163.1L220.8 163.8L221.8 163.9L221.9 162.7L222.6 161.1L224.1 159.2L225.0 159.2L225.3 159.5L226.3 157.9L228.0 157.3L229.2 156.2L228.4 155.4L227.0 153.8L225.6 152.4L225.3 152.3L224.8 152.7L225.6 152.3L226.3 150.6L226.5 150.1L227.0 149.2L228.6 147.3L229.5 146.0L230.3 145.5L231.0 145.7L231.9 143.8L232.3 142.1L231.6 140.6L231.2 139.3L230.9 140.1L230.9 137.9L231.5 135.3L231.3 133.9L229.7 132.5L229.5 131.4L229.4 130.2L228.7 129.5L228.4 129.1L227.9 128.3L226.6 127.5L225.1 126.8L223.9 126.3L223.5 126.3L223.0 127.2L221.8 129.7L220.7 130.3L219.8 130.6L219.3 130.4L219.1 130.3L219.0 131.3L219.3 134.4L219.9 135.5L218.9 136.3L218.5 137.5L217.2 137.9L214.8 137.8L212.8 137.7L212.1 137.9L211.6 139.5L211.0 141.2L212.3 141.3L213.2 141.8L214.1 143.1L214.8 144.1Z"/><path id="b107" d="M220.5 171.1L221.2 172.0L221.2 172.8L221.5 174.0L220.2 175.7L218.7 177.2L217.4 177.4L218.3 178.6L219.8 179.5L220.8 180.3L219.9 182.9L219.0 184.7L219.7 185.2L220.3 186.2L220.2 187.7L220.2 189.1L220.8 189.6L223.2 190.1L224.8 189.6L225.1 188.7L226.1 187.9L228.1 186.9L229.5 187.1L229.8 186.9L230.5 185.3L232.1 185.0L233.6 185.5L232.4 183.4L231.9 181.2L232.3 180.7L233.2 180.2L232.2 178.8L230.0 178.2L229.1 177.9L228.7 176.4L228.4 174.4L228.6 173.1L228.9 172.0L226.7 171.1L224.7 169.7L224.0 169.0L223.5 169.9L221.5 170.7Z"/><path id="b108" d="M233.6 185.4L235.1 185.8L236.1 185.6L237.2 185.6L238.2 184.3L239.0 182.1L239.5 182.2L240.4 182.0L241.4 180.9L242.3 179.6L242.9 178.2L243.8 178.3L242.9 178.2L242.3 179.9L241.0 180.9L240.9 180.6L239.2 179.8L237.5 177.3L237.7 174.6L238.5 174.5L239.3 173.2L239.3 171.8L237.4 170.6L236.3 168.4L237.0 167.1L236.1 168.0L234.9 169.1L233.9 169.5L232.7 170.2L231.2 170.5L230.0 170.6L229.4 171.6L228.8 171.9L228.5 173.2L228.4 174.5L228.6 176.4L229.1 177.9L230.0 178.2L232.1 178.9L233.2 180.3L232.4 180.7L231.9 181.1L232.3 183.4Z"/><path id="b109" d="M220.8 189.6L221.0 191.1L222.5 193.1L222.8 193.7L222.7 194.3L223.3 196.2L223.7 197.8L223.8 198.9L224.3 201.1L224.4 201.6L223.9 202.3L223.9 204.2L225.2 204.5L226.7 204.6L227.7 205.3L228.9 206.6L230.5 207.7L231.9 208.5L232.4 209.5L232.5 210.5L233.3 210.6L235.6 209.6L237.5 208.5L237.9 207.1L237.9 206.0L238.5 207.1L239.9 206.9L241.3 205.4L242.8 204.4L242.9 203.0L242.8 201.9L242.8 200.4L242.6 199.3L242.6 197.1L243.0 195.8L242.6 195.4L240.7 194.7L240.2 193.9L240.0 192.1L239.9 189.5L240.0 188.4L239.1 188.1L237.5 186.6L237.1 185.7L237.2 185.6L236.1 185.6L235.0 185.8L233.6 185.4L232.1 185.0L230.5 185.3L229.8 186.8L229.5 187.0L228.1 186.9L226.1 187.9L225.2 188.7L224.8 189.5L223.2 190.1Z"/><path id="b110" d="M237.2 185.6L237.1 185.6L237.4 186.6L239.0 188.1L240.0 188.4L239.8 189.5L240.0 192.1L240.1 193.8L240.7 194.7L242.5 195.4L243.0 195.8L242.6 197.1L242.6 199.3L242.8 200.4L242.7 201.9L242.8 203.0L242.7 204.4L242.8 205.4L242.8 206.0L244.0 207.0L245.0 209.0L246.1 210.7L247.4 209.2L248.7 208.4L250.6 209.0L252.1 209.6L252.0 208.8L252.1 208.0L254.3 208.5L257.3 209.2L256.3 208.2L255.5 207.0L255.2 205.2L255.4 203.8L256.7 202.8L257.6 202.0L256.9 200.6L255.9 198.0L256.0 196.5L256.5 196.0L256.6 195.1L256.8 193.3L257.0 190.6L256.8 189.6L256.6 189.8L256.8 188.8L256.5 187.3L256.2 185.2L257.0 183.6L258.0 182.3L257.4 181.0L256.4 180.7L255.3 180.5L253.5 179.5L252.6 177.9L252.5 176.7L251.9 176.5L249.9 177.0L248.0 176.4L247.2 175.9L246.5 176.2L245.4 177.1L243.6 178.3L242.7 178.4L241.9 180.2L240.8 181.5L239.7 182.4L239.0 181.8L238.3 183.9Z"/><path id="b111" d="M232.5 210.5L232.4 209.5L231.9 208.5L230.5 207.6L229.0 206.5L227.7 205.3L226.8 204.5L225.3 204.5L223.9 204.2L223.9 204.6L223.6 206.1L222.7 207.8L221.9 208.4L222.1 208.6L223.6 208.6L225.8 209.5L227.1 210.8L227.3 211.4L228.1 211.5L229.9 212.2L231.5 213.2L232.5 211.6ZM233.3 210.6L236.3 211.7L237.9 213.0L236.9 213.9L238.0 212.9L240.4 211.3L242.1 210.5L243.2 210.5L245.2 211.4L246.2 210.7L245.0 208.9L244.0 207.0L242.8 206.0L242.8 205.4L242.8 204.4L241.3 205.4L239.9 206.9L238.5 207.1L237.9 206.0L237.9 207.1L237.4 208.5L235.5 209.5Z"/><path id="b112" d="M205.0 189.6L204.2 191.6L204.3 192.8L205.3 193.9L205.4 195.2L204.8 195.7L204.6 197.3L204.7 199.6L204.9 199.9L204.9 200.3L205.4 201.3L205.3 202.9L206.0 203.5L207.5 204.3L208.4 205.8L209.0 207.6L211.1 209.0L212.4 209.7L211.7 209.1L211.8 209.4L214.6 210.4L217.4 211.0L218.1 210.6L218.1 209.6L219.3 209.7L220.9 209.8L221.9 208.3L222.7 207.8L223.6 206.1L223.9 204.6L223.9 204.2L223.9 202.3L224.4 201.7L224.3 201.1L223.8 198.9L223.7 197.9L223.3 196.2L222.7 194.2L222.8 193.7L222.5 193.1L221.0 191.1L220.9 189.6L220.2 189.1L220.1 189.9L219.0 190.2L216.4 189.6L214.2 189.4L214.0 190.0L214.1 190.5L212.9 189.8L210.8 188.6L209.0 188.1L207.7 188.7L206.6 189.5L205.9 189.7Z"/><path id="b113" d="M205.3 202.9L204.2 204.5L203.7 206.5L204.4 207.4L205.0 208.0L204.5 209.5L206.5 209.2L206.9 208.9L207.9 209.7L210.6 210.4L212.4 209.7L211.2 209.0L209.0 207.6L208.5 205.8L207.5 204.3L206.1 203.4Z"/><path id="b114" d="M212.4 209.6L210.6 210.4L207.9 209.6L206.9 208.9L206.5 209.2L204.6 209.5L202.5 209.4L201.9 211.6L202.0 213.0L203.1 212.7L203.7 213.4L204.2 215.1L205.1 216.5L205.4 217.0L205.5 217.3L206.9 218.5L208.6 220.0L209.1 220.5L209.1 220.7L209.7 221.7L210.5 223.3L211.6 222.4L213.2 220.6L214.2 219.1L214.6 218.6L214.9 218.1L215.7 218.3L215.6 215.9L216.2 214.3L216.6 214.0L217.2 212.1L217.4 211.0L214.6 210.4L211.8 209.4L211.7 209.0Z"/><path id="b115" d="M237.9 220.5L239.8 222.0L240.4 222.5L240.9 221.6L243.0 219.8L245.2 219.9L245.7 220.9L245.1 219.2L245.5 218.1L245.9 215.6L245.4 214.0L245.0 214.2L245.3 212.5L245.2 211.4L243.5 210.5L242.4 210.3L241.4 210.7L239.6 211.7L237.7 213.1L237.0 213.9L236.5 213.5L237.9 214.9L238.8 216.4L238.5 217.3L238.3 220.1Z"/><path id="b116" d="M245.7 220.8L246.3 221.8L247.1 221.5L248.5 221.1L250.0 221.8L251.3 223.0L252.7 223.4L253.9 222.9L254.2 221.8L255.1 221.5L255.9 220.2L255.7 218.2L255.1 216.5L255.1 216.3L255.5 216.0L255.7 215.0L256.1 213.2L257.1 211.5L257.8 210.3L257.3 209.1L254.3 208.4L252.2 208.0L252.0 208.8L252.1 209.5L250.7 209.0L248.8 208.3L247.4 209.1L246.1 210.7L245.1 211.4L245.2 212.5L244.9 214.2L245.3 214.0L245.9 215.6L245.5 218.1L245.1 219.2Z"/><path id="b117" d="M221.9 208.3L220.9 209.8L219.3 209.7L218.1 209.5L218.1 210.5L217.4 211.0L217.1 212.1L216.6 214.0L216.2 214.3L215.6 215.9L215.7 218.3L217.7 217.7L219.4 216.4L220.2 216.0L220.8 216.4L221.9 216.5L222.0 215.5L221.9 214.8L222.3 212.3L222.9 210.9L222.6 210.4L222.1 208.6Z"/><path id="b118" d="M225.9 218.5L226.4 217.4L226.3 216.8L226.3 215.3L226.7 213.5L227.5 211.9L228.1 211.5L227.3 211.4L227.1 210.8L225.8 209.5L223.6 208.5L222.0 208.6L222.5 210.5L222.9 211.0L222.3 212.3L221.9 214.7L222.0 215.5L221.9 216.5L223.3 217.1L225.2 217.4L226.2 217.8Z"/><path id="b119" d="M238.7 227.2L240.3 227.6L241.8 228.3L242.7 228.1L243.7 227.3L245.3 227.6L247.0 228.9L248.3 229.5L249.0 228.6L249.7 227.9L250.7 228.4L251.3 228.8L252.6 227.3L253.7 226.1L253.9 222.8L252.7 223.4L251.3 223.0L250.0 221.7L248.6 221.1L247.2 221.5L246.3 221.7L245.7 220.8L245.1 219.9L243.0 219.8L240.9 221.6L240.4 222.5L239.8 221.9L240.4 223.3L240.3 224.0L239.3 225.4L238.7 227.1Z"/><path id="b120" d="M237.9 229.5L238.4 230.3L239.9 231.4L241.2 232.5L241.7 233.4L243.1 234.1L244.6 234.6L244.2 235.0L244.1 235.5L246.2 236.8L248.2 238.7L249.0 240.2L249.5 238.2L250.0 235.8L250.1 234.6L250.1 234.4L250.4 232.4L250.7 231.5L250.7 229.0L250.7 228.4L249.7 227.9L249.1 228.6L248.3 229.5L247.1 228.9L245.3 227.6L243.7 227.2L242.7 228.0L241.9 228.3L240.4 227.6L238.7 227.2Z"/><path id="b121" d="M97.7 190.6L96.7 190.0L96.7 189.8L95.1 189.3L92.7 188.2L94.5 189.2L95.3 189.0L95.4 189.7L95.7 191.8L96.2 193.5L97.6 193.8L98.7 193.1L98.1 191.8L98.1 190.6Z"/><path id="b122" d="M155.5 172.2L156.6 171.7L157.8 171.8L159.2 171.9L160.8 171.5L162.2 170.6L162.4 169.3L161.9 168.9L160.7 167.1L160.4 166.2L161.1 166.3L161.4 164.3L161.2 162.4L159.7 162.3L158.0 162.8L156.9 163.2L155.5 164.1L154.0 165.3L153.3 165.9L152.6 166.5L152.8 167.8L153.3 169.5L154.4 170.5L154.9 171.4Z"/><path id="b123" d="M162.1 170.6L162.3 171.2L162.9 170.2L163.5 169.9L165.5 169.8L167.9 170.0L168.7 170.2L168.6 169.6L170.0 169.1L171.2 168.0L171.9 167.4L170.4 166.3L168.9 165.0L167.5 164.1L166.6 163.3L166.3 162.7L165.4 162.4L163.5 162.6L162.2 162.4L161.8 161.7L161.2 162.4L161.3 164.7L160.8 166.4L160.3 166.3L161.4 168.4L162.4 169.3Z"/><path id="b124" d="M162.3 171.1L162.2 173.7L161.8 174.3L161.0 175.1L160.8 176.3L162.2 176.7L163.2 178.2L164.7 178.3L165.8 179.1L166.9 179.4L168.5 178.8L169.7 177.9L170.5 177.4L170.7 176.6L171.2 176.8L171.5 175.2L172.5 174.0L173.8 172.0L172.8 171.4L170.9 170.6L170.0 169.0L168.7 169.5L168.7 170.1L167.8 170.0L165.5 169.8L163.5 169.9L162.9 170.1Z"/><path id="b125" d="M169.9 186.8L170.3 185.7L171.0 185.2L169.9 183.9L170.0 182.5L170.4 181.1L170.0 180.4L169.5 179.7L168.5 178.7L166.9 179.4L165.8 179.0L164.6 178.2L163.2 178.1L163.2 180.2L163.5 180.9L163.1 181.7L162.9 183.6L163.6 184.9L164.8 185.8L165.0 186.0L164.8 186.1L166.6 187.0L169.1 187.7Z"/><path id="b126" d="M173.9 215.5L174.7 216.5L174.4 216.7L174.7 217.1L177.4 217.7L180.0 218.4L179.9 218.6L179.5 218.3L181.4 218.6L183.9 219.9L184.4 221.2L185.2 219.4L186.0 216.9L186.5 216.5L186.9 215.7L187.6 215.5L188.8 213.4L189.4 212.8L188.9 211.3L188.0 210.5L187.4 210.2L186.9 209.9L185.6 211.2L183.7 212.2L182.7 211.7L182.0 211.0L180.0 211.2L177.7 211.6L177.0 212.2L177.0 213.1L175.7 213.2L174.3 213.6Z"/><path id="b127" d="M174.7 217.1L174.6 218.9L174.2 219.8L173.1 220.9L172.2 222.7L172.4 222.7L173.7 224.1L173.5 225.9L172.9 227.3L173.9 228.4L175.4 229.6L176.3 230.3L177.7 230.2L178.6 230.9L179.1 231.8L179.3 231.0L179.8 230.6L179.9 228.9L180.1 228.4L181.0 226.7L182.3 224.6L183.5 223.9L184.0 222.3L184.0 222.0L184.5 221.1L183.9 219.9L181.4 218.5L179.5 218.2L180.0 218.5L180.0 218.3L177.4 217.6Z"/><path id="b128" d="M151.0 179.7L151.4 178.8L150.8 178.2L150.3 178.3L150.2 178.4L150.4 179.0L150.0 179.5L150.0 181.2L150.5 180.5Z"/><path id="b129" d="M151.3 178.7L151.0 179.7L151.5 181.8L152.3 183.0L153.0 183.2L154.0 182.8L154.3 182.6L154.2 181.4L153.3 179.5Z"/><path id="b130" d="M153.3 179.6L155.3 179.4L156.2 179.6L155.9 178.1L156.6 177.3L155.5 176.3L153.6 176.3L151.4 177.1L150.3 177.8L150.3 178.3L150.8 178.2L151.3 178.8Z"/><path id="b131" d="M150.1 179.5L148.2 179.2L146.2 178.6L145.9 179.8L148.7 181.0L149.7 181.9L150.0 181.2Z"/><path id="b132" d="M158.0 181.7L157.7 181.6L156.4 181.6L155.2 182.0L154.3 182.6L154.0 182.8L152.9 183.9L153.7 186.0L154.4 185.8L156.5 185.2L158.6 184.2Z"/><path id="b133" d="M146.0 179.8L146.2 178.7L146.4 178.3L145.3 177.6L144.4 179.1L143.3 180.6L143.3 180.7L143.6 181.1L143.7 181.2L144.8 181.8L145.2 181.2Z"/><path id="b134" d="M143.9 176.0L141.6 176.8L142.6 178.6L143.3 180.6L144.4 179.2L145.3 177.6L146.4 178.3L146.6 178.4L146.3 177.3L145.3 176.4Z"/><path id="b135" d="M149.4 182.9L149.4 182.8L148.4 183.0L146.8 183.6L145.2 184.3L145.1 184.7L146.6 185.7L148.6 185.4L148.8 184.1Z"/><path id="b136" d="M153.0 183.2L152.3 183.0L151.1 183.3L149.9 183.5L150.9 184.9L152.2 184.2Z"/><path id="b137" d="M161.9 207.5L160.3 208.1L157.7 207.7L156.0 206.9L156.9 208.6L158.8 210.6L159.9 211.7L161.0 211.3L161.5 210.9L161.6 209.7L161.9 207.5L162.1 207.2Z"/><path id="b138" d="M154.6 207.6L155.6 206.6L156.0 206.9L157.8 207.7L160.4 208.1L161.9 207.5L161.5 205.8L160.6 204.7L160.0 203.6L159.0 203.8L159.2 203.8L158.0 203.3L156.3 203.3L155.2 204.5L154.4 206.8Z"/><path id="b139" d="M157.4 199.8L158.3 198.2L159.9 197.1L159.0 197.6L157.6 197.7L156.7 198.9Z"/><path id="b140" d="M153.5 216.3L154.4 218.6L154.6 218.2L154.8 216.1L156.2 214.9L154.9 215.0L154.7 215.1L154.6 214.5Z"/><path id="b141" d="M153.6 216.3L152.1 216.4L151.8 216.8L151.7 219.1L151.3 220.1L151.0 221.7L151.9 221.6L153.2 221.9L154.6 222.7L155.8 223.5L155.8 221.9L155.1 221.1L154.0 220.7L154.1 219.7L154.4 218.6Z"/></defs>
<g>
<text class="s" x="62.6" y="93.2">2014</text>
<path class="g" d="M62.2 123.70H262.9M62.2 152.38H262.9M62.2 181.06H262.9M62.2 209.74H262.9M62.2 238.42H262.9M101.60 105.0V253.0M159.75 105.0V253.0M217.90 105.0V253.0"/>
<text class="a" transform="translate(57.5 128.3) rotate(-30)">36.0°N</text>
<text class="a" transform="translate(57.5 157.0) rotate(-30)">35.8°N</text>
<text class="a" transform="translate(57.5 185.7) rotate(-30)">35.6°N</text>
<text class="a" transform="translate(57.5 214.3) rotate(-30)">35.4°N</text>
<text class="a" transform="translate(57.5 243.0) rotate(-30)">35.2°N</text>
<text class="a" transform="translate(109.1 264.2) rotate(-30)">83.0°W</text>
<text class="a" transform="translate(167.2 264.2) rotate(-30)">82.5°W</text>
<text class="a" transform="translate(225.4 264.2) rotate(-30)">82.0°W</text>
<g class="m" transform="translate(0.0 0.0)"><g clip-path="url(#oc)"><g fill="#dc4869"><use href="#a0"/><use href="#a6"/><use href="#a8"/><use href="#a20"/><use href="#a22"/><use href="#a29"/><use href="#a38"/><use href="#a49"/><use href="#a50"/><use href="#a51"/><use href="#a53"/><use href="#a67"/><use href="#a71"/><use href="#a73"/><use href="#a77"/><use href="#a80"/><use href="#a93"/><use href="#a107"/><use href="#a112"/><use href="#a115"/><use href="#a117"/><use href="#a120"/><use href="#a125"/></g><g fill="#bc3978"><use href="#a1"/><use href="#a7"/><use href="#a18"/><use href="#a25"/><use href="#a39"/><use href="#a68"/><use href="#a74"/><use href="#a82"/><use href="#a89"/><use href="#a90"/><use href="#a104"/><use href="#a119"/></g><g fill="#902a81"><use href="#a2"/><use href="#a11"/><use href="#a19"/><use href="#a31"/><use href="#a37"/><use href="#a45"/><use href="#a46"/><use href="#a65"/><use href="#a70"/><use href="#a88"/><use href="#a103"/><use href="#a116"/></g><g fill="#390f6e"><use href="#a3"/><use href="#a69"/><use href="#a78"/><use href="#a91"/><use href="#a114"/></g><g fill="#fea36f"><use href="#a4"/><use href="#a9"/><use href="#a13"/><use href="#a16"/><use href="#a23"/><use href="#a24"/><use href="#a26"/><use href="#a33"/><use href="#a36"/><use href="#a62"/><use href="#a64"/><use href="#a72"/><use href="#a79"/><use href="#a94"/><use href="#a95"/><use href="#a109"/><use href="#a110"/><use href="#a121"/><use href="#a126"/></g><g fill="#fa7f5e"><use href="#a5"/><use href="#a10"/><use href="#a14"/><use href="#a28"/><use href="#a34"/><use href="#a35"/><use href="#a40"/><use href="#a47"/><use href="#a52"/><use href="#a61"/><use href="#a81"/><use href="#a83"/><use href="#a97"/><use href="#a100"/><use href="#a101"/><use href="#a102"/><use href="#a108"/><use href="#a111"/></g><g fill="#7f7f7f"><use href="#a12"/><use href="#a30"/></g><g fill="#fec488"><use href="#a15"/><use href="#a27"/><use href="#a41"/><use href="#a44"/><use href="#a57"/><use href="#a58"/><use href="#a96"/><use href="#a98"/><use href="#a99"/><use href="#a106"/><use href="#a113"/></g><g fill="#fcfdbf"><use href="#a17"/><use href="#a42"/><use href="#a43"/><use href="#a55"/><use href="#a56"/><use href="#a105"/></g><g fill="#f2645c"><use href="#a21"/><use href="#a32"/><use href="#a48"/><use href="#a76"/><use href="#a85"/><use href="#a87"/></g><g fill="#fde3a5"><use href="#a54"/><use href="#a59"/><use href="#a60"/><use href="#a118"/><use href="#a123"/><use href="#a124"/><use href="#a127"/></g><g fill="#621980"><use href="#a63"/><use href="#a66"/><use href="#a75"/><use href="#a84"/><use href="#a92"/><use href="#a122"/></g><g fill="#000004"><use href="#a86"/></g></g><use href="#ol"/></g>
</g>
<g>
<text class="s" x="315.8" y="93.2">2016</text>
<path class="g" d="M315.4 123.70H516.1M315.4 152.38H516.1M315.4 181.06H516.1M315.4 209.74H516.1M315.4 238.42H516.1M354.85 105.0V253.0M413.00 105.0V253.0M471.15 105.0V253.0"/>
<text class="a" transform="translate(310.8 128.3) rotate(-30)">36.0°N</text>
<text class="a" transform="translate(310.8 157.0) rotate(-30)">35.8°N</text>
<text class="a" transform="translate(310.8 185.7) rotate(-30)">35.6°N</text>
<text class="a" transform="translate(310.8 214.3) rotate(-30)">35.4°N</text>
<text class="a" transform="translate(310.8 243.0) rotate(-30)">35.2°N</text>
<text class="a" transform="translate(362.4 264.2) rotate(-30)">83.0°W</text>
<text class="a" transform="translate(420.5 264.2) rotate(-30)">82.5°W</text>
<text class="a" transform="translate(478.7 264.2) rotate(-30)">82.0°W</text>
<g class="m" transform="translate(253.2 0.0)"><g clip-path="url(#oc)"><g fill="#621980"><use href="#a0"/></g><g fill="#dc4869"><use href="#a1"/><use href="#a2"/><use href="#a8"/><use href="#a11"/><use href="#a19"/><use href="#a29"/><use href="#a67"/><use href="#a68"/><use href="#a77"/><use href="#a82"/><use href="#a85"/><use href="#a93"/><use href="#a112"/><use href="#a117"/></g><g fill="#f2645c"><use href="#a3"/><use href="#a18"/><use href="#a39"/><use href="#a46"/><use href="#a65"/><use href="#a81"/><use href="#a88"/><use href="#a104"/><use href="#a107"/><use href="#a119"/></g><g fill="#fec488"><use href="#a4"/><use href="#a13"/><use href="#a15"/><use href="#a23"/><use href="#a24"/><use href="#a33"/><use href="#a54"/><use href="#a74"/><use href="#a79"/><use href="#a99"/><use href="#a103"/><use href="#a106"/><use href="#a109"/><use href="#a111"/><use href="#a118"/><use href="#a127"/></g><g fill="#fea36f"><use href="#a5"/><use href="#a26"/><use href="#a31"/><use href="#a32"/><use href="#a35"/><use href="#a36"/><use href="#a40"/><use href="#a41"/><use href="#a44"/><use href="#a45"/><use href="#a47"/><use href="#a50"/><use href="#a52"/><use href="#a53"/><use href="#a61"/><use href="#a62"/><use href="#a64"/><use href="#a71"/><use href="#a72"/><use href="#a73"/><use href="#a94"/><use href="#a95"/><use href="#a102"/><use href="#a115"/><use href="#a116"/><use href="#a121"/><use href="#a126"/></g><g fill="#fa7f5e"><use href="#a6"/><use href="#a7"/><use href="#a14"/><use href="#a20"/><use href="#a37"/><use href="#a38"/><use href="#a49"/><use href="#a108"/><use href="#a110"/><use href="#a120"/><use href="#a125"/></g><g fill="#a8327d"><use href="#a9"/></g><g fill="#fd9266"><use href="#a10"/><use href="#a21"/><use href="#a34"/><use href="#a87"/></g><g fill="#7f7f7f"><use href="#a12"/><use href="#a30"/></g><g fill="#feb67c"><use href="#a16"/><use href="#a57"/><use href="#a58"/><use href="#a96"/><use href="#a97"/></g><g fill="#fde3a5"><use href="#a17"/><use href="#a59"/><use href="#a60"/><use href="#a98"/><use href="#a105"/><use href="#a123"/></g><g fill="#902a81"><use href="#a22"/><use href="#a63"/><use href="#a69"/><use href="#a114"/></g><g fill="#bc3978"><use href="#a25"/><use href="#a66"/><use href="#a80"/><use href="#a91"/><use href="#a122"/></g><g fill="#fcfdbf"><use href="#a27"/><use href="#a42"/><use href="#a43"/><use href="#a55"/><use href="#a56"/><use href="#a113"/><use href="#a124"/></g><g fill="#e95462"><use href="#a28"/><use href="#a83"/><use href="#a84"/></g><g fill="#f7725c"><use href="#a48"/><use href="#a51"/><use href="#a76"/><use href="#a100"/><use href="#a101"/></g><g fill="#cd4071"><use href="#a70"/><use href="#a89"/><use href="#a90"/></g><g fill="#390f6e"><use href="#a75"/></g><g fill="#000004"><use href="#a78"/></g><g fill="#4f127b"><use href="#a86"/><use href="#a92"/></g></g><use href="#ol"/></g>
</g>
<g>
<text class="s" x="569.1" y="93.2">2018</text>
<path class="g" d="M568.7 123.70H769.4M568.7 152.38H769.4M568.7 181.06H769.4M568.7 209.74H769.4M568.7 238.42H769.4M608.10 105.0V253.0M666.25 105.0V253.0M724.40 105.0V253.0"/>
<text class="a" transform="translate(564.0 128.3) rotate(-30)">36.0°N</text>
<text class="a" transform="translate(564.0 157.0) rotate(-30)">35.8°N</text>
<text class="a" transform="translate(564.0 185.7) rotate(-30)">35.6°N</text>
<text class="a" transform="translate(564.0 214.3) rotate(-30)">35.4°N</text>
<text class="a" transform="translate(564.0 243.0) rotate(-30)">35.2°N</text>
<text class="a" transform="translate(615.6 264.2) rotate(-30)">83.0°W</text>
<text class="a" transform="translate(673.8 264.2) rotate(-30)">82.5°W</text>
<text class="a" transform="translate(731.9 264.2) rotate(-30)">82.0°W</text>
<g class="m" transform="translate(506.5 0.0)"><g clip-path="url(#oc)"><g fill="#902a81"><use href="#a0"/></g><g fill="#fa7f5e"><use href="#a1"/><use href="#a5"/><use href="#a81"/><use href="#a93"/><use href="#a107"/><use href="#a110"/></g><g fill="#feb67c"><use href="#a2"/><use href="#a6"/><use href="#a27"/><use href="#a36"/><use href="#a88"/><use href="#a100"/><use href="#a101"/></g><g fill="#fec488"><use href="#a3"/><use href="#a4"/><use href="#a13"/><use href="#a16"/><use href="#a20"/><use href="#a21"/><use href="#a23"/><use href="#a26"/><use href="#a31"/><use href="#a34"/><use href="#a35"/><use href="#a37"/><use href="#a38"/><use href="#a39"/><use href="#a44"/><use href="#a46"/><use href="#a49"/><use href="#a52"/><use href="#a54"/><use href="#a57"/><use href="#a58"/><use href="#a64"/><use href="#a67"/><use href="#a70"/><use href="#a71"/><use href="#a104"/><use href="#a115"/><use href="#a119"/><use href="#a120"/></g><g fill="#fea36f"><use href="#a7"/><use href="#a10"/><use href="#a61"/><use href="#a62"/><use href="#a72"/><use href="#a73"/><use href="#a79"/><use href="#a90"/><use href="#a96"/><use href="#a111"/><use href="#a121"/><use href="#a125"/><use href="#a126"/></g><g fill="#fd9266"><use href="#a8"/><use href="#a28"/><use href="#a29"/><use href="#a32"/><use href="#a83"/><use href="#a84"/><use href="#a85"/><use href="#a97"/></g><g fill="#dc4869"><use href="#a9"/><use href="#a63"/><use href="#a66"/><use href="#a69"/><use href="#a75"/><use href="#a76"/><use href="#a86"/><use href="#a91"/><use href="#a114"/></g><g fill="#f7725c"><use href="#a11"/><use href="#a48"/></g><g fill="#7f7f7f"><use href="#a12"/><use href="#a30"/></g><g fill="#f2645c"><use href="#a14"/><use href="#a22"/><use href="#a25"/><use href="#a51"/><use href="#a65"/><use href="#a68"/><use href="#a77"/><use href="#a80"/><use href="#a87"/><use href="#a92"/><use href="#a108"/><use href="#a112"/><use href="#a117"/><use href="#a122"/></g><g fill="#fde3a5"><use href="#a15"/><use href="#a17"/><use href="#a18"/><use href="#a19"/><use href="#a24"/><use href="#a33"/><use href="#a40"/><use href="#a41"/><use href="#a45"/><use href="#a47"/><use href="#a50"/><use href="#a53"/><use href="#a55"/><use href="#a56"/><use href="#a74"/><use href="#a94"/><use href="#a95"/><use href="#a99"/><use href="#a102"/><use href="#a103"/><use href="#a105"/><use href="#a106"/><use href="#a109"/><use href="#a113"/><use href="#a116"/><use href="#a118"/><use href="#a123"/><use href="#a127"/></g><g fill="#fcfdbf"><use href="#a42"/><use href="#a43"/><use href="#a59"/><use href="#a60"/><use href="#a98"/><use href="#a124"/></g><g fill="#000004"><use href="#a78"/></g><g fill="#e95462"><use href="#a82"/><use href="#a89"/></g></g><use href="#ol"/></g>
</g>
<g>
<text class="s" x="62.6" y="310.0">2020</text>
<path class="g" d="M62.2 340.50H262.9M62.2 369.18H262.9M62.2 397.86H262.9M62.2 426.54H262.9M62.2 455.22H262.9M101.60 321.8V469.8M159.75 321.8V469.8M217.90 321.8V469.8"/>
<text class="a" transform="translate(57.5 345.1) rotate(-30)">36.0°N</text>
<text class="a" transform="translate(57.5 373.8) rotate(-30)">35.8°N</text>
<text class="a" transform="translate(57.5 402.5) rotate(-30)">35.6°N</text>
<text class="a" transform="translate(57.5 431.1) rotate(-30)">35.4°N</text>
<text class="a" transform="translate(57.5 459.8) rotate(-30)">35.2°N</text>
<text class="a" transform="translate(109.1 481.0) rotate(-30)">83.0°W</text>
<text class="a" transform="translate(167.2 481.0) rotate(-30)">82.5°W</text>
<text class="a" transform="translate(225.4 481.0) rotate(-30)">82.0°W</text>
<g class="m" transform="translate(0.0 216.8)"><g clip-path="url(#oc)"><g fill="#bc3978"><use href="#b0"/><use href="#b8"/><use href="#b12"/><use href="#b22"/><use href="#b26"/><use href="#b35"/><use href="#b59"/><use href="#b62"/><use href="#b66"/><use href="#b80"/><use href="#b100"/><use href="#b110"/><use href="#b131"/><use href="#b134"/></g><g fill="#fea36f"><use href="#b1"/><use href="#b33"/><use href="#b68"/><use href="#b92"/><use href="#b108"/><use href="#b109"/><use href="#b122"/><use href="#b127"/><use href="#b135"/></g><g fill="#e95462"><use href="#b2"/><use href="#b7"/><use href="#b47"/><use href="#b77"/></g><g fill="#fcfdbf"><use href="#b3"/><use href="#b15"/><use href="#b17"/><use href="#b31"/><use href="#b34"/><use href="#b39"/><use href="#b41"/><use href="#b43"/><use href="#b53"/><use href="#b56"/><use href="#b96"/><use href="#b102"/><use href="#b104"/><use href="#b117"/><use href="#b121"/><use href="#b123"/><use href="#b138"/></g><g fill="#dc4869"><use href="#b4"/><use href="#b13"/><use href="#b64"/><use href="#b71"/><use href="#b91"/><use href="#b101"/><use href="#b107"/><use href="#b111"/><use href="#b124"/><use href="#b126"/><use href="#b128"/></g><g fill="#fd9266"><use href="#b5"/><use href="#b9"/><use href="#b27"/><use href="#b106"/><use href="#b116"/></g><g fill="#feb67c"><use href="#b6"/><use href="#b11"/><use href="#b29"/><use href="#b84"/><use href="#b88"/><use href="#b113"/><use href="#b114"/></g><g fill="#7f7f7f"><use href="#b10"/><use href="#b28"/></g><g fill="#fa7f5e"><use href="#b14"/><use href="#b20"/><use href="#b45"/><use href="#b54"/><use href="#b61"/><use href="#b69"/><use href="#b87"/><use href="#b89"/><use href="#b103"/><use href="#b115"/><use href="#b139"/></g><g fill="#fde3a5"><use href="#b16"/><use href="#b19"/><use href="#b24"/><use href="#b38"/><use href="#b40"/><use href="#b50"/><use href="#b52"/><use href="#b55"/><use href="#b58"/><use href="#b70"/><use href="#b94"/><use href="#b97"/><use href="#b98"/><use href="#b105"/><use href="#b130"/><use href="#b132"/><use href="#b137"/><use href="#b141"/></g><g fill="#f2645c"><use href="#b18"/><use href="#b21"/><use href="#b30"/><use href="#b57"/><use href="#b86"/></g><g fill="#000004"><use href="#b23"/></g><g fill="#f7725c"><use href="#b25"/><use href="#b79"/></g><g fill="#fec488"><use href="#b32"/><use href="#b36"/><use href="#b37"/><use href="#b42"/><use href="#b46"/><use href="#b48"/><use href="#b49"/><use href="#b51"/><use href="#b60"/><use href="#b63"/><use href="#b67"/><use href="#b85"/><use href="#b90"/><use href="#b93"/><use href="#b95"/><use href="#b99"/><use href="#b112"/><use href="#b125"/><use href="#b129"/><use href="#b133"/><use href="#b140"/></g><g fill="#902a81"><use href="#b44"/><use href="#b76"/><use href="#b82"/><use href="#b83"/><use href="#b119"/><use href="#b120"/><use href="#b136"/></g><g fill="#390f6e"><use href="#b65"/><use href="#b74"/><use href="#b75"/></g><g fill="#792282"><use href="#b72"/></g><g fill="#621980"><use href="#b73"/><use href="#b118"/></g><g fill="#cd4071"><use href="#b78"/></g><g fill="#4f127b"><use href="#b81"/></g></g><use href="#ol"/></g>
</g>
<g>
<text class="s" x="315.8" y="310.0">2022</text>
<path class="g" d="M315.4 340.50H516.1M315.4 369.18H516.1M315.4 397.86H516.1M315.4 426.54H516.1M315.4 455.22H516.1M354.85 321.8V469.8M413.00 321.8V469.8M471.15 321.8V469.8"/>
<text class="a" transform="translate(310.8 345.1) rotate(-30)">36.0°N</text>
<text class="a" transform="translate(310.8 373.8) rotate(-30)">35.8°N</text>
<text class="a" transform="translate(310.8 402.5) rotate(-30)">35.6°N</text>
<text class="a" transform="translate(310.8 431.1) rotate(-30)">35.4°N</text>
<text class="a" transform="translate(310.8 459.8) rotate(-30)">35.2°N</text>
<text class="a" transform="translate(362.4 481.0) rotate(-30)">83.0°W</text>
<text class="a" transform="translate(420.5 481.0) rotate(-30)">82.5°W</text>
<text class="a" transform="translate(478.7 481.0) rotate(-30)">82.0°W</text>
<g class="m" transform="translate(253.2 216.8)"><g clip-path="url(#oc)"><g fill="#fea36f"><use href="#b0"/><use href="#b5"/><use href="#b14"/><use href="#b24"/><use href="#b25"/><use href="#b32"/><use href="#b34"/><use href="#b60"/><use href="#b68"/><use href="#b90"/><use href="#b91"/><use href="#b106"/><use href="#b109"/><use href="#b121"/><use href="#b127"/><use href="#b133"/><use href="#b135"/></g><g fill="#fa7f5e"><use href="#b1"/><use href="#b7"/><use href="#b20"/><use href="#b21"/><use href="#b61"/><use href="#b89"/><use href="#b107"/><use href="#b115"/><use href="#b117"/></g><g fill="#e95462"><use href="#b2"/><use href="#b4"/><use href="#b8"/><use href="#b30"/><use href="#b103"/><use href="#b110"/></g><g fill="#fcfdbf"><use href="#b3"/><use href="#b16"/><use href="#b39"/><use href="#b41"/><use href="#b43"/><use href="#b49"/><use href="#b51"/><use href="#b52"/><use href="#b55"/><use href="#b56"/><use href="#b104"/><use href="#b123"/><use href="#b124"/><use href="#b130"/><use href="#b132"/><use href="#b138"/></g><g fill="#feb67c"><use href="#b6"/><use href="#b48"/><use href="#b85"/><use href="#b114"/></g><g fill="#f7725c"><use href="#b9"/><use href="#b12"/><use href="#b54"/><use href="#b79"/></g><g fill="#7f7f7f"><use href="#b10"/><use href="#b28"/></g><g fill="#fec488"><use href="#b11"/><use href="#b17"/><use href="#b19"/><use href="#b33"/><use href="#b36"/><use href="#b37"/><use href="#b42"/><use href="#b46"/><use href="#b63"/><use href="#b66"/><use href="#b67"/><use href="#b84"/><use href="#b86"/><use href="#b93"/><use href="#b98"/><use href="#b125"/><use href="#b128"/><use href="#b140"/></g><g fill="#dc4869"><use href="#b13"/><use href="#b18"/><use href="#b22"/><use href="#b59"/><use href="#b65"/><use href="#b69"/><use href="#b77"/><use href="#b97"/><use href="#b99"/><use href="#b101"/><use href="#b112"/><use href="#b122"/><use href="#b126"/><use href="#b136"/><use href="#b139"/></g><g fill="#fde3a5"><use href="#b15"/><use href="#b31"/><use href="#b38"/><use href="#b40"/><use href="#b50"/><use href="#b53"/><use href="#b58"/><use href="#b70"/><use href="#b94"/><use href="#b95"/><use href="#b96"/><use href="#b102"/><use href="#b129"/><use href="#b137"/><use href="#b141"/></g><g fill="#902a81"><use href="#b23"/><use href="#b35"/><use href="#b64"/><use href="#b87"/><use href="#b116"/><use href="#b118"/><use href="#b131"/><use href="#b134"/></g><g fill="#bc3978"><use href="#b26"/><use href="#b27"/><use href="#b81"/><use href="#b82"/></g><g fill="#fd9266"><use href="#b29"/><use href="#b45"/><use href="#b47"/></g><g fill="#cd4071"><use href="#b44"/><use href="#b78"/><use href="#b108"/><use href="#b119"/></g><g fill="#f2645c"><use href="#b57"/><use href="#b71"/><use href="#b88"/><use href="#b92"/><use href="#b113"/></g><g fill="#621980"><use href="#b62"/><use href="#b73"/><use href="#b76"/><use href="#b100"/></g><g fill="#a8327d"><use href="#b72"/><use href="#b80"/><use href="#b111"/></g><g fill="#390f6e"><use href="#b74"/><use href="#b75"/></g><g fill="#792282"><use href="#b83"/><use href="#b105"/></g><g fill="#000004"><use href="#b120"/></g></g><use href="#ol"/></g>
</g>
<defs><linearGradient id="lg" x1="0" y1="1" x2="0" y2="0">
<stop offset="0.0000" stop-color="#fcfdbf"/>
<stop offset="0.0250" stop-color="#fcf2b4"/>
<stop offset="0.0500" stop-color="#fde7a9"/>
<stop offset="0.0750" stop-color="#fdda9c"/>
<stop offset="0.1000" stop-color="#fecf92"/>
<stop offset="0.1250" stop-color="#fec488"/>
<stop offset="0.1500" stop-color="#feb77e"/>
<stop offset="0.1750" stop-color="#feac76"/>
<stop offset="0.2000" stop-color="#fe9f6d"/>
<stop offset="0.2250" stop-color="#fd9467"/>
<stop offset="0.2500" stop-color="#fc8961"/>
<stop offset="0.2750" stop-color="#f97b5d"/>
<stop offset="0.3000" stop-color="#f7705c"/>
<stop offset="0.3250" stop-color="#f2645c"/>
<stop offset="0.3500" stop-color="#ed5a5f"/>
<stop offset="0.3750" stop-color="#e75263"/>
<stop offset="0.4000" stop-color="#de4968"/>
<stop offset="0.4250" stop-color="#d5446d"/>
<stop offset="0.4500" stop-color="#ca3e72"/>
<stop offset="0.4750" stop-color="#c03a76"/>
<stop offset="0.5000" stop-color="#b73779"/>
<stop offset="0.5250" stop-color="#ab337c"/>
<stop offset="0.5500" stop-color="#a1307e"/>
<stop offset="0.5750" stop-color="#962c80"/>
<stop offset="0.6000" stop-color="#8c2981"/>
<stop offset="0.6250" stop-color="#832681"/>
<stop offset="0.6500" stop-color="#782281"/>
<stop offset="0.6750" stop-color="#6e1e81"/>
<stop offset="0.7000" stop-color="#641a80"/>
<stop offset="0.7250" stop-color="#5a167e"/>
<stop offset="0.7500" stop-color="#51127c"/>
<stop offset="0.7750" stop-color="#451077"/>
<stop offset="0.8000" stop-color="#3b0f70"/>
<stop offset="0.8250" stop-color="#2f1163"/>
<stop offset="0.8500" stop-color="#251255"/>
<stop offset="0.8750" stop-color="#1d1147"/>
<stop offset="0.9000" stop-color="#140e36"/>
<stop offset="0.9250" stop-color="#0d0a29"/>
<stop offset="0.9500" stop-color="#06051a"/>
<stop offset="0.9750" stop-color="#02020d"/>
<stop offset="1.0000" stop-color="#000004"/>
</linearGradient></defs>
<text class="lt" x="634.9" y="325.8">Percentage</text>
<rect x="634.9" y="333.6" width="29.0" height="143.5" fill="url(#lg)"/>
<text class="l" x="671" y="481.7">0.00</text>
<text class="l" x="671" y="446.8">0.05</text>
<text class="l" x="671" y="412.0">0.10</text>
<text class="l" x="671" y="377.1">0.15</text>
<text class="l" x="671" y="342.2">0.20</text>
<path d="M634.9 442.23h5.8M663.9 442.23h-5.8M634.9 407.36h5.8M663.9 407.36h-5.8M634.9 372.49h5.8M663.9 372.49h-5.8M634.9 337.62h5.8M663.9 337.62h-5.8" stroke="#fff" stroke-width="0.7" fill="none"/>
</svg></body></html>
